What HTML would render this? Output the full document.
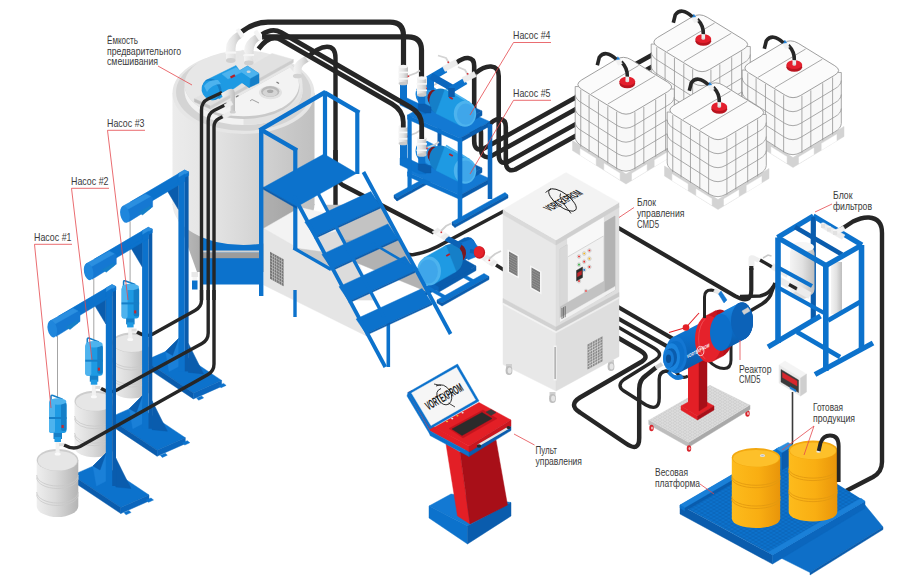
<!DOCTYPE html>
<html lang="ru"><head><meta charset="utf-8"><title>Схема установки CMD5</title>
<style>
html,body{margin:0;padding:0;background:#fff;}
body{width:900px;height:584px;overflow:hidden;}
svg{display:block;}
text{font-family:"Liberation Sans",sans-serif;}
.lbl{font-size:10.5px;fill:#3a3a3a;}
.hose{fill:none;stroke:#262626;stroke-linecap:butt;stroke-linejoin:round;}
.ld{fill:none;stroke:#e5484d;stroke-width:0.8;}
</style></head><body>
<svg width="900" height="584" viewBox="0 0 900 584">
<defs>
<linearGradient id="gTank" x1="0" x2="1" y1="0" y2="0">
<stop offset="0" stop-color="#ececec"/><stop offset="0.3" stop-color="#e3e3e3"/><stop offset="0.55" stop-color="#d6d6d6"/><stop offset="0.8" stop-color="#c9c9c9"/><stop offset="1" stop-color="#c0c0c0"/>
</linearGradient>
<linearGradient id="gCone" x1="0" x2="1" y1="0" y2="0">
<stop offset="0" stop-color="#c4c4c4"/><stop offset="0.25" stop-color="#a4a4a4"/><stop offset="1" stop-color="#8e8e8e"/>
</linearGradient>
<linearGradient id="gPipe" x1="0" x2="1" y1="0" y2="0">
<stop offset="0" stop-color="#f4f4f4"/><stop offset="0.5" stop-color="#e2e2e2"/><stop offset="1" stop-color="#bdbdbd"/>
</linearGradient>
<linearGradient id="gDrum" x1="0" x2="1" y1="0" y2="0">
<stop offset="0" stop-color="#eeeeee"/><stop offset="0.45" stop-color="#dadada"/><stop offset="1" stop-color="#b4b4b4"/>
</linearGradient>
<linearGradient id="gYel" x1="0" x2="1" y1="0" y2="0">
<stop offset="0" stop-color="#fdbb1c"/><stop offset="0.55" stop-color="#f9ae12"/><stop offset="1" stop-color="#e9950a"/>
</linearGradient>
<linearGradient id="gCyl" x1="0" x2="0" y1="0" y2="1">
<stop offset="0" stop-color="#1a86e0"/><stop offset="0.5" stop-color="#0c6fca"/><stop offset="1" stop-color="#0a57a6"/>
</linearGradient>
<pattern id="pDiamond" width="5" height="3" patternUnits="userSpaceOnUse">
<rect width="5" height="3" fill="#dcdcdc"/>
<path d="M0,1.5 L2.5,0 L5,1.5 L2.5,3 Z" fill="none" stroke="#c4c4c4" stroke-width="0.5"/>
</pattern>
<pattern id="pDiamondB" width="6" height="3.6" patternUnits="userSpaceOnUse">
<rect width="6" height="3.6" fill="#0c72cc"/>
<path d="M0,1.8 L3,0 L6,1.8 L3,3.6 Z" fill="none" stroke="#0a62b4" stroke-width="0.7"/>
</pattern>
<clipPath id="cHatch"><polygon points="212,111 296,64 330,64 330,140 212,140"/></clipPath>

</defs>
<g id="tophoses0">
<path class="hose" d="M456,63 Q463,57.5 468,58 Q474.2,58.5 474.2,66 L474.2,141 Q474.2,151.5 483,149.01 L656,52.82" stroke-width="4.6" stroke="#262626" />
<path class="hose" d="M475.5,73 Q484,66 491,66.5 Q498.7,67 498.7,76 L498.7,154 Q498.7,165.5 508,161.81 L656,79.52" stroke-width="4.6" stroke="#262626" />
<path class="hose" d="M470,133 Q475,126.5 478,127 Q481,127.5 481,133 L481,148 Q481,159 490,156.82 L656,64.52" stroke-width="4.6" stroke="#262626" />
<path class="hose" d="M487,127 Q494,118.5 500,119 Q505.8,119.5 505.8,127 L505.8,161 Q505.8,172.5 515,169.62 L656,91.22" stroke-width="4.6" stroke="#262626" />
</g>
<g id="ibc">
<polygon points="648.5,98 702,131.5 753,100.5 753,110.5 702,141.5 648.5,108" fill="#d3d3d3" stroke="#d3d3d3" stroke-width="0.45" stroke-linejoin="round" />
<polygon points="656.24,106.34 671.84,115.94 671.84,122.44 656.24,112.84" fill="#fff" stroke="#fff" stroke-width="0.45" stroke-linejoin="round" />
<polygon points="707.94,130.96 722.79,122.11 722.79,128.61 707.94,137.46" fill="#fff" stroke="#fff" stroke-width="0.45" stroke-linejoin="round" />
<polygon points="680.16,121.06 695.76,130.66 695.76,137.16 680.16,127.56" fill="#fff" stroke="#fff" stroke-width="0.45" stroke-linejoin="round" />
<polygon points="730.71,117.39 745.56,108.54 745.56,115.04 730.71,123.89" fill="#fff" stroke="#fff" stroke-width="0.45" stroke-linejoin="round" />
<path d="M651.2,44 L651.2,95 Q651.5,100 658,103.5 L694,126.5 Q702,131 710,126.2 L743.5,106 Q750,102.5 750.3,97.5 L750.3,46.5 Z" fill="#f8f8f8" stroke="#949494" stroke-width="0.8" />
<path d="M651.2,52 Q651.5,57 658,60.5 L694,83.5 Q702,88 710,83.2 L743.5,63 Q750,59.5 750.3,54.5" fill="none" stroke="#949494" stroke-width="0.8" />
<path d="M651.2,66 Q651.5,71 658,74.5 L694,97.5 Q702,102 710,97.2 L743.5,77 Q750,73.5 750.3,68.5" fill="none" stroke="#949494" stroke-width="0.8" />
<path d="M651.2,80 Q651.5,85 658,88.5 L694,111.5 Q702,116 710,111.2 L743.5,91 Q750,87.5 750.3,82.5" fill="none" stroke="#949494" stroke-width="0.8" />
<line x1="656.76" y1="47.16" x2="656.76" y2="104.16" stroke="#949494" stroke-width="0.8" />
<line x1="665.08" y1="52.28" x2="665.08" y2="109.28" stroke="#949494" stroke-width="0.8" />
<line x1="674.44" y1="58.04" x2="674.44" y2="115.04" stroke="#949494" stroke-width="0.8" />
<line x1="683.8" y1="63.8" x2="683.8" y2="120.8" stroke="#949494" stroke-width="0.8" />
<line x1="692.64" y1="69.24" x2="692.64" y2="126.24" stroke="#949494" stroke-width="0.8" />
<line x1="710.91" y1="69.69" x2="710.91" y2="126.69" stroke="#949494" stroke-width="0.8" />
<line x1="719.82" y1="64.38" x2="719.82" y2="121.38" stroke="#949494" stroke-width="0.8" />
<line x1="731.7" y1="57.3" x2="731.7" y2="114.3" stroke="#949494" stroke-width="0.8" />
<line x1="741.6" y1="51.4" x2="741.6" y2="108.4" stroke="#949494" stroke-width="0.8" />
<path d="M657.66,46.72 Q650,42 657.73,37.39 L691.77,17.11 Q699.5,12.5 707.16,17.22 L743.84,39.78 Q751.5,44.5 743.77,49.11 L709.73,69.39 Q702,74 694.34,69.28 Z" fill="#fbfbfb" stroke="#949494" stroke-width="0.9" />
<line x1="667.11" y1="51.33" x2="714.63" y2="23.01" stroke="#949494" stroke-width="0.8" />
<line x1="683.75" y1="61.57" x2="731.27" y2="33.25" stroke="#949494" stroke-width="0.8" />
<ellipse cx="703.31" cy="41.31" rx="7.8" ry="4.4" fill="#b9141f" />
<rect x="695.51" y="38.71" width="15.6" height="2.6" fill="#b9141f" />
<ellipse cx="703.31" cy="38.71" rx="7.8" ry="4.4" fill="#e41f2d" />
<rect x="701.51" y="33.71" width="3.6" height="5" fill="#ececec" />
<ellipse cx="703.31" cy="38.71" rx="1.8" ry="1" fill="#dcdcdc" />
<path class="hose" d="M703.31,34.21 Q703.81,25.71 697.31,19.21" stroke-width="3.6" stroke="#262626" />
<polygon points="698.31,21.21 694.81,14.71 690.81,16.71 694.31,22.71" fill="#f0f0f0" stroke="#f0f0f0" stroke-width="0.45" stroke-linejoin="round" />
<polygon points="693.81,14.21 691.81,17.21 695.81,16.71" fill="#1e7fd6" stroke="#1e7fd6" stroke-width="0.45" stroke-linejoin="round" />
<path class="hose" d="M692.31,16.71 Q681.31,6.71 675.31,14.71 L673.31,22.71" stroke-width="3.6" stroke="#262626" />
<polygon points="739.5,124 793,157.5 844,126.5 844,136.5 793,167.5 739.5,134" fill="#d3d3d3" stroke="#d3d3d3" stroke-width="0.45" stroke-linejoin="round" />
<polygon points="747.24,132.34 762.84,141.94 762.84,148.44 747.24,138.84" fill="#fff" stroke="#fff" stroke-width="0.45" stroke-linejoin="round" />
<polygon points="798.94,156.96 813.79,148.11 813.79,154.61 798.94,163.46" fill="#fff" stroke="#fff" stroke-width="0.45" stroke-linejoin="round" />
<polygon points="771.16,147.06 786.76,156.66 786.76,163.16 771.16,153.56" fill="#fff" stroke="#fff" stroke-width="0.45" stroke-linejoin="round" />
<polygon points="821.71,143.39 836.56,134.54 836.56,141.04 821.71,149.89" fill="#fff" stroke="#fff" stroke-width="0.45" stroke-linejoin="round" />
<path d="M742.2,70 L742.2,121 Q742.5,126 749,129.5 L785,152.5 Q793,157 801,152.2 L834.5,132 Q841,128.5 841.3,123.5 L841.3,72.5 Z" fill="#f8f8f8" stroke="#949494" stroke-width="0.8" />
<path d="M742.2,78 Q742.5,83 749,86.5 L785,109.5 Q793,114 801,109.2 L834.5,89 Q841,85.5 841.3,80.5" fill="none" stroke="#949494" stroke-width="0.8" />
<path d="M742.2,92 Q742.5,97 749,100.5 L785,123.5 Q793,128 801,123.2 L834.5,103 Q841,99.5 841.3,94.5" fill="none" stroke="#949494" stroke-width="0.8" />
<path d="M742.2,106 Q742.5,111 749,114.5 L785,137.5 Q793,142 801,137.2 L834.5,117 Q841,113.5 841.3,108.5" fill="none" stroke="#949494" stroke-width="0.8" />
<line x1="747.76" y1="73.16" x2="747.76" y2="130.16" stroke="#949494" stroke-width="0.8" />
<line x1="756.08" y1="78.28" x2="756.08" y2="135.28" stroke="#949494" stroke-width="0.8" />
<line x1="765.44" y1="84.04" x2="765.44" y2="141.04" stroke="#949494" stroke-width="0.8" />
<line x1="774.8" y1="89.8" x2="774.8" y2="146.8" stroke="#949494" stroke-width="0.8" />
<line x1="783.64" y1="95.24" x2="783.64" y2="152.24" stroke="#949494" stroke-width="0.8" />
<line x1="801.91" y1="95.69" x2="801.91" y2="152.69" stroke="#949494" stroke-width="0.8" />
<line x1="810.82" y1="90.38" x2="810.82" y2="147.38" stroke="#949494" stroke-width="0.8" />
<line x1="822.7" y1="83.3" x2="822.7" y2="140.3" stroke="#949494" stroke-width="0.8" />
<line x1="832.6" y1="77.4" x2="832.6" y2="134.4" stroke="#949494" stroke-width="0.8" />
<path d="M748.66,72.72 Q741,68 748.73,63.39 L782.77,43.11 Q790.5,38.5 798.16,43.22 L834.84,65.78 Q842.5,70.5 834.77,75.11 L800.73,95.39 Q793,100 785.34,95.28 Z" fill="#fbfbfb" stroke="#949494" stroke-width="0.9" />
<line x1="758.11" y1="77.33" x2="805.63" y2="49.01" stroke="#949494" stroke-width="0.8" />
<line x1="774.75" y1="87.57" x2="822.27" y2="59.25" stroke="#949494" stroke-width="0.8" />
<ellipse cx="794.31" cy="67.31" rx="7.8" ry="4.4" fill="#b9141f" />
<rect x="786.51" y="64.71" width="15.6" height="2.6" fill="#b9141f" />
<ellipse cx="794.31" cy="64.71" rx="7.8" ry="4.4" fill="#e41f2d" />
<rect x="792.51" y="59.71" width="3.6" height="5" fill="#ececec" />
<ellipse cx="794.31" cy="64.71" rx="1.8" ry="1" fill="#dcdcdc" />
<path class="hose" d="M794.31,60.21 Q794.81,51.71 788.31,45.21" stroke-width="3.6" stroke="#262626" />
<polygon points="789.31,47.21 785.81,40.71 781.81,42.71 785.31,48.71" fill="#f0f0f0" stroke="#f0f0f0" stroke-width="0.45" stroke-linejoin="round" />
<polygon points="784.81,40.21 782.81,43.21 786.81,42.71" fill="#1e7fd6" stroke="#1e7fd6" stroke-width="0.45" stroke-linejoin="round" />
<path class="hose" d="M783.31,42.71 Q772.31,32.71 766.31,40.71 L764.31,48.71" stroke-width="3.6" stroke="#262626" />
</g>
<g id="tank">
<polygon points="172.5,204 197,272 292,272 314.5,204" fill="url(#gCone)" />
<rect x="203" y="236" width="57" height="48.5" fill="#0c72cc" />
<rect x="203" y="250.5" width="57" height="2.2" fill="#d2d2d2" />
<rect x="203" y="252.7" width="57" height="5.5" fill="#9c9c9c" />
<rect x="191.5" y="272" width="6.5" height="5" fill="#e8e8e8" />
<rect x="192.5" y="277" width="4.5" height="3.5" fill="#f5f5f5" />
<rect x="192" y="280.5" width="5.5" height="9" fill="#0c72cc" />
<path d="M172.5,93 L172.5,204 A71,41 0 0 0 314.5,204 L314.5,93 Z" fill="url(#gTank)" />
<ellipse cx="243.5" cy="93" rx="71" ry="41" fill="#e6e6e6" />
<ellipse cx="243.5" cy="92" rx="67.5" ry="38.8" fill="#d4d4d4" />
<path d="M184.5,91 A59,34 0 0 0 302.5,91 L302.5,84.5 A59,34 0 0 1 184.5,84.5 Z" fill="#f2f2f2" />
<path d="M243.5,125 A59,34 0 0 0 302.5,91 L302.5,84.5 A59,34 0 0 1 243.5,118.5 Z" fill="#e2e2e2" />
<ellipse cx="243.5" cy="84.5" rx="59" ry="34" fill="#e7e7e7" />
<g clip-path="url(#cHatch)">
<ellipse cx="243.5" cy="87" rx="56" ry="32" fill="#c9c9c9" />
<ellipse cx="243.5" cy="85" rx="55.5" ry="31.3" fill="#f3f3f3" />
</g>
<polygon points="194.4,98.8 272,53.4 293.3,59.6 210.5,106" fill="#e1e1e1" stroke="#e1e1e1" stroke-width="0.45" stroke-linejoin="round" />
<polygon points="194.4,98.8 210.5,106 210.5,109 194.4,101.8" fill="#bfbfbf" stroke="#bfbfbf" stroke-width="0.45" stroke-linejoin="round" />
<polygon points="210.5,106 293.3,59.6 293.3,62.4 210.5,109" fill="#cdcdcd" stroke="#cdcdcd" stroke-width="0.45" stroke-linejoin="round" />
<ellipse cx="270.5" cy="92.5" rx="11.5" ry="6.8" fill="#e2e2e2" />
<ellipse cx="270.2" cy="91.5" rx="9.2" ry="5.4" fill="#b9b9b9" />
<ellipse cx="270.2" cy="92.6" rx="7.4" ry="4.1" fill="#d5d5d5" />
<ellipse cx="270.2" cy="91.2" rx="3.2" ry="1.8" fill="#a9a9a9" />
<polyline points="250,101 252,99.5 259,103" fill="none" stroke="#8a8a8a" stroke-width="0.8" />
<polyline points="236,97 238.5,95.5" fill="none" stroke="#777" stroke-width="1.2" />
<polyline points="276.5,82 279,83.5" fill="none" stroke="#777" stroke-width="1.2" />
<polygon points="239,71 247.5,66 259,73.6 259,83 249,87.6 239,80.5" fill="#157fc8" stroke="#157fc8" stroke-width="0.45" stroke-linejoin="round" />
<polygon points="239,71 247.5,66 259,73.6 250,78.5" fill="#4db3ee" stroke="#4db3ee" stroke-width="0.45" stroke-linejoin="round" />
<polygon points="239,71 250,78.5 249.5,87.6 239,80.5" fill="#1e9ae3" stroke="#1e9ae3" stroke-width="0.45" stroke-linejoin="round" />
<ellipse cx="248.6" cy="71.8" rx="2" ry="1.2" fill="#cfd8df" />
<polygon points="205.5,80.5 236,65.5 246,80 219,99" fill="#1e9ae3" stroke="#1e9ae3" stroke-width="0.45" stroke-linejoin="round" />
<polygon points="222,74 236,67.5 242,72 228,79" fill="#4db3ee" stroke="#4db3ee" stroke-width="0.45" stroke-linejoin="round" />
<rect x="230" y="75.5" width="5" height="2.3" fill="#b3202a" transform="rotate(-27 232 76)"/>
<ellipse cx="211.8" cy="89.5" rx="9.4" ry="11" fill="#157fc8" transform="rotate(-28 211.8 89.5)"/>
<ellipse cx="210.4" cy="90.3" rx="8.4" ry="10.2" fill="#1e9ae3" transform="rotate(-28 210.4 90.3)"/>
<path d="M204,86 Q209,79 218,80 L221,84 Q212,84 207,92 Z" fill="#4db3ee" />
</g>
<g id="tophoses">
<path class="hose" d="M306,59 Q318,46.8 327,46.8 Q335.5,46.8 335.5,58 L335.5,215" stroke-width="4.4" stroke="#262626" />
<path class="hose" d="M242,31.5 Q254,22.2 268,22.2 L390,22.2 Q403.5,22.2 403.5,36 L403.5,67" stroke-width="5.2" stroke="#262626" />
<path class="hose" d="M262,36.8 L408,36.8 Q421.5,36.8 421.5,50 L421.5,78" stroke-width="5.2" stroke="#262626" />
<path d="M226,60.5 L226,48.5 Q226,38.5 238,31.5 L242,37.5 Q235.5,41.5 235.5,48.5 L235.5,60.5 Z" fill="url(#gPipe)" />
<ellipse cx="230.75" cy="60.5" rx="4.75" ry="2.4" fill="#cfcfcf" />
<rect x="225.2" y="51.5" width="11" height="2.2" fill="#f6f6f6" />
<polygon points="236,30 239,28.5 244,36 241,38" fill="#f4f4f4" stroke="#f4f4f4" stroke-width="0.45" stroke-linejoin="round" />
<path d="M244,63 L244,51 Q244,41 256,34 L260,40 Q253.5,44 253.5,51 L253.5,63 Z" fill="url(#gPipe)" />
<ellipse cx="248.75" cy="63" rx="4.75" ry="2.4" fill="#cfcfcf" />
<rect x="243.2" y="54" width="11" height="2.2" fill="#f6f6f6" />
<polygon points="254,32.5 257,31 262,38.5 259,40.5" fill="#f4f4f4" stroke="#f4f4f4" stroke-width="0.45" stroke-linejoin="round" />
<polygon points="236,54 243,50 245,53.5 238,57.5" fill="#e6e6e6" stroke="#e6e6e6" stroke-width="0.45" stroke-linejoin="round" />
<polygon points="252,57.5 260,52.5 262,56.5 254,61" fill="#e6e6e6" stroke="#e6e6e6" stroke-width="0.45" stroke-linejoin="round" />
<path d="M293.5,76 L293.5,70 Q293.5,63 301,58.5 L306,55.5 L309.5,61 L305,64 Q301.5,66.5 301.5,70 L301.5,76 Z" fill="url(#gPipe)" />
<ellipse cx="297.5" cy="76" rx="4.6" ry="2.3" fill="#d2d2d2" />
<polygon points="304,54.5 307,52.5 311.5,59.5 308.5,61.5" fill="#f5f5f5" stroke="#f5f5f5" stroke-width="0.45" stroke-linejoin="round" />
</g>
<g id="tankfront">
<path class="hose" d="M222,92.5 L208,99 Q201.5,102 201.5,110 L201.5,300" stroke-width="3.4" stroke="#262626" />
<path class="hose" d="M227,104 L214,110.5 Q208.2,113.5 208.2,121 L208.2,300" stroke-width="3.4" stroke="#262626" />
<path class="hose" d="M224,116 L219,118.5 Q214,121 214,127 L214,300" stroke-width="3.4" stroke="#262626" />
<path d="M221,93.5 L228,89.5 Q235,86.5 235,95 L235,112 L230.5,112 L230.5,97 Q230.5,93.5 227,95.5 L223,97.5 Z" fill="url(#gPipe)" />
<polygon points="224,104.5 231,101 233,104.5 226,108.5" fill="#ededed" stroke="#ededed" stroke-width="0.45" stroke-linejoin="round" />
<polygon points="222,115 230,111 232,114.5 224,119" fill="#ededed" stroke="#ededed" stroke-width="0.45" stroke-linejoin="round" />
<ellipse cx="232.8" cy="112" rx="3" ry="1.6" fill="#d0d0d0" />
</g>
<g id="pumpstation">
<line x1="439.5" y1="100" x2="439.5" y2="172" stroke="#0a5cad" stroke-width="4" />
<polygon points="394,195 447,166 450,168.5 397,198" fill="#0c72cc" stroke="#0c72cc" stroke-width="0.45" stroke-linejoin="round" />
<polygon points="394,195 397,198 397,201 394,198" fill="#0a5cad" stroke="#0a5cad" stroke-width="0.45" stroke-linejoin="round" />
<polygon points="397,198 450,168.5 450,171.5 397,201" fill="#0a5cad" stroke="#0a5cad" stroke-width="0.45" stroke-linejoin="round" />
<g transform="translate(0,57)">
<polygon points="407.5,115 437.5,98.5 490,121.7 460,138.3" fill="#1379d3" stroke="#1379d3" stroke-width="0.45" stroke-linejoin="round" />
<polygon points="407.5,115 460,138.3 460,142.5 407.5,119.2" fill="#0c72cc" stroke="#0c72cc" stroke-width="0.45" stroke-linejoin="round" />
<polygon points="460,138.3 490,121.7 490,125.9 460,142.5" fill="#0a5cad" stroke="#0a5cad" stroke-width="0.45" stroke-linejoin="round" />
<polygon points="428,104 446,94 482,111 463,121.5" fill="#0a5cad" stroke="#0a5cad" stroke-width="0.45" stroke-linejoin="round" />
<polygon points="428,104 463,121.5 463,126 428,108.5" fill="#0b66bd" stroke="#0b66bd" stroke-width="0.45" stroke-linejoin="round" />
<polygon points="463,121.5 482,111 482,115.5 463,126" fill="#0a5cad" stroke="#0a5cad" stroke-width="0.45" stroke-linejoin="round" />
<ellipse cx="424" cy="94" rx="8.5" ry="10.5" fill="#1a86dc" />
<polygon points="428.81,107.73 420.81,103.73 427.19,84.27 435.19,88.27" fill="#1a86dc" stroke="#1a86dc" stroke-width="0.45" stroke-linejoin="round" />
<ellipse cx="432" cy="98" rx="8.5" ry="10.5" fill="#2b98e6" />
<ellipse cx="434" cy="97.8" rx="6.5" ry="8" fill="#7a1820" />
<polygon points="437.09,107.93 431.59,105.23 436.41,90.37 441.91,93.07" fill="#7a1820" stroke="#7a1820" stroke-width="0.45" stroke-linejoin="round" />
<ellipse cx="439.5" cy="100.5" rx="6.5" ry="8" fill="#8f1d26" />
<ellipse cx="440.5" cy="101.5" rx="11.2" ry="13" fill="#157fc8" />
<polygon points="460.55,125.73 436.05,113.43 444.95,89.57 469.45,101.87" fill="#1e9ae3" stroke="#1e9ae3" stroke-width="0.45" stroke-linejoin="round" />
<ellipse cx="465" cy="113.8" rx="11.2" ry="13" fill="#4db3ee" />
<ellipse cx="465.8" cy="114.2" rx="8.8" ry="10.6" fill="#3fa6ea" />
<path d="M446,88.5 L466,100.5" fill="none" stroke="#4db3ee" stroke-width="2" />
<rect x="449" y="97" width="4" height="2" fill="#b3202a" transform="rotate(30 451 98)"/>
</g>
<g transform="translate(0,60)">
<rect x="400" y="82" width="7" height="16" fill="#0c72cc" />
<polygon points="400,98 407,98 426,107 426,114 419,114 400,105" fill="#0c72cc" stroke="#0c72cc" stroke-width="0.45" stroke-linejoin="round" />
<rect x="418.2" y="94" width="7" height="12" fill="#0c72cc" />
<polygon points="418.2,104 425.2,104 431,107 431,113 425,113 418.2,110" fill="#0a5cad" stroke="#0a5cad" stroke-width="0.45" stroke-linejoin="round" />
<rect x="398.6" y="66.5" width="9.4" height="17" fill="url(#gPipe)" />
<ellipse cx="403.3" cy="83.5" rx="4.7" ry="1.8" fill="#c9c9c9" />
<ellipse cx="403.3" cy="66.5" rx="4.7" ry="1.8" fill="#f5f5f5" />
<rect x="398" y="71.6" width="10.6" height="1.6" fill="#f8f8f8" />
<rect x="398" y="78.06" width="10.6" height="1.6" fill="#f8f8f8" />
<rect x="417" y="78" width="9.4" height="17" fill="url(#gPipe)" />
<ellipse cx="421.7" cy="95" rx="4.7" ry="1.8" fill="#c9c9c9" />
<ellipse cx="421.7" cy="78" rx="4.7" ry="1.8" fill="#f5f5f5" />
<rect x="416.4" y="83.1" width="10.6" height="1.6" fill="#f8f8f8" />
<rect x="416.4" y="89.56" width="10.6" height="1.6" fill="#f8f8f8" />
<polyline points="408,76 416,73 420,70.5" fill="none" stroke="#cfcfcf" stroke-width="1.8" />
<polyline points="426.5,88 435,84.5 439,82" fill="none" stroke="#cfcfcf" stroke-width="1.8" />
<rect x="407.6" y="75.5" width="1.6" height="1.6" fill="#d9353a" />
<rect x="426.2" y="87.5" width="1.6" height="1.6" fill="#d9353a" />
</g>
<line x1="409.6" y1="115" x2="409.6" y2="191" stroke="#0c72cc" stroke-width="4.2" />
<g transform="translate(0,0)">
<polygon points="407.5,115 437.5,98.5 490,121.7 460,138.3" fill="#1379d3" stroke="#1379d3" stroke-width="0.45" stroke-linejoin="round" />
<polygon points="407.5,115 460,138.3 460,142.5 407.5,119.2" fill="#0c72cc" stroke="#0c72cc" stroke-width="0.45" stroke-linejoin="round" />
<polygon points="460,138.3 490,121.7 490,125.9 460,142.5" fill="#0a5cad" stroke="#0a5cad" stroke-width="0.45" stroke-linejoin="round" />
<polygon points="428,104 446,94 482,111 463,121.5" fill="#0a5cad" stroke="#0a5cad" stroke-width="0.45" stroke-linejoin="round" />
<polygon points="428,104 463,121.5 463,126 428,108.5" fill="#0b66bd" stroke="#0b66bd" stroke-width="0.45" stroke-linejoin="round" />
<polygon points="463,121.5 482,111 482,115.5 463,126" fill="#0a5cad" stroke="#0a5cad" stroke-width="0.45" stroke-linejoin="round" />
<ellipse cx="424" cy="94" rx="8.5" ry="10.5" fill="#1a86dc" />
<polygon points="428.81,107.73 420.81,103.73 427.19,84.27 435.19,88.27" fill="#1a86dc" stroke="#1a86dc" stroke-width="0.45" stroke-linejoin="round" />
<ellipse cx="432" cy="98" rx="8.5" ry="10.5" fill="#2b98e6" />
<ellipse cx="434" cy="97.8" rx="6.5" ry="8" fill="#7a1820" />
<polygon points="437.09,107.93 431.59,105.23 436.41,90.37 441.91,93.07" fill="#7a1820" stroke="#7a1820" stroke-width="0.45" stroke-linejoin="round" />
<ellipse cx="439.5" cy="100.5" rx="6.5" ry="8" fill="#8f1d26" />
<ellipse cx="440.5" cy="101.5" rx="11.2" ry="13" fill="#157fc8" />
<polygon points="460.55,125.73 436.05,113.43 444.95,89.57 469.45,101.87" fill="#1e9ae3" stroke="#1e9ae3" stroke-width="0.45" stroke-linejoin="round" />
<ellipse cx="465" cy="113.8" rx="11.2" ry="13" fill="#4db3ee" />
<ellipse cx="465.8" cy="114.2" rx="8.8" ry="10.6" fill="#3fa6ea" />
<path d="M446,88.5 L466,100.5" fill="none" stroke="#4db3ee" stroke-width="2" />
<rect x="449" y="97" width="4" height="2" fill="#b3202a" transform="rotate(30 451 98)"/>
</g>
<g transform="translate(0,0)">
<rect x="400" y="82" width="7" height="16" fill="#0c72cc" />
<polygon points="400,98 407,98 426,107 426,114 419,114 400,105" fill="#0c72cc" stroke="#0c72cc" stroke-width="0.45" stroke-linejoin="round" />
<rect x="418.2" y="94" width="7" height="12" fill="#0c72cc" />
<polygon points="418.2,104 425.2,104 431,107 431,113 425,113 418.2,110" fill="#0a5cad" stroke="#0a5cad" stroke-width="0.45" stroke-linejoin="round" />
<rect x="398.6" y="66.5" width="9.4" height="17" fill="url(#gPipe)" />
<ellipse cx="403.3" cy="83.5" rx="4.7" ry="1.8" fill="#c9c9c9" />
<ellipse cx="403.3" cy="66.5" rx="4.7" ry="1.8" fill="#f5f5f5" />
<rect x="398" y="71.6" width="10.6" height="1.6" fill="#f8f8f8" />
<rect x="398" y="78.06" width="10.6" height="1.6" fill="#f8f8f8" />
<rect x="417" y="78" width="9.4" height="17" fill="url(#gPipe)" />
<ellipse cx="421.7" cy="95" rx="4.7" ry="1.8" fill="#c9c9c9" />
<ellipse cx="421.7" cy="78" rx="4.7" ry="1.8" fill="#f5f5f5" />
<rect x="416.4" y="83.1" width="10.6" height="1.6" fill="#f8f8f8" />
<rect x="416.4" y="89.56" width="10.6" height="1.6" fill="#f8f8f8" />
<polyline points="408,76 416,73 420,70.5" fill="none" stroke="#cfcfcf" stroke-width="1.8" />
<polyline points="426.5,88 435,84.5 439,82" fill="none" stroke="#cfcfcf" stroke-width="1.8" />
<rect x="407.6" y="75.5" width="1.6" height="1.6" fill="#d9353a" />
<rect x="426.2" y="87.5" width="1.6" height="1.6" fill="#d9353a" />
</g>
<g transform="translate(0,0)">
<line x1="430.5" y1="90" x2="430.5" y2="78" stroke="#0c72cc" stroke-width="7" />
<line x1="428" y1="79.5" x2="445.5" y2="69.3" stroke="#0c72cc" stroke-width="7" />
<line x1="431" y1="76" x2="453" y2="88.5" stroke="#0b66bd" stroke-width="7" />
<line x1="450.5" y1="90" x2="465.5" y2="81" stroke="#0c72cc" stroke-width="7" />
<line x1="451.5" y1="97" x2="451.5" y2="88" stroke="#0a5cad" stroke-width="6.5" />
<polygon points="442.5,66.5 455.5,59.5 458,64.5 445,71.5" fill="#ececec" stroke="#ececec" stroke-width="0.45" stroke-linejoin="round" />
<polygon points="462,77.5 474,71.5 476.5,76.5 464.5,82.5" fill="#ececec" stroke="#ececec" stroke-width="0.45" stroke-linejoin="round" />
<polyline points="449,63 446,58 438,55.5" fill="none" stroke="#d4d4d4" stroke-width="1.8" />
<polyline points="468,75 465,70 458,67" fill="none" stroke="#d4d4d4" stroke-width="1.8" />
<rect x="447.5" y="61.5" width="1.6" height="1.6" fill="#d9353a" />
<rect x="466.8" y="73" width="1.6" height="1.6" fill="#d9353a" />
</g>
<polygon points="452,222 505,192.5 508,195 455,224.5" fill="#0c72cc" stroke="#0c72cc" stroke-width="0.45" stroke-linejoin="round" />
<polygon points="452,222 455,224.5 455,227.5 452,225" fill="#0a5cad" stroke="#0a5cad" stroke-width="0.45" stroke-linejoin="round" />
<polygon points="455,224.5 508,195 508,198 455,227.5" fill="#0a5cad" stroke="#0a5cad" stroke-width="0.45" stroke-linejoin="round" />
<line x1="460" y1="138" x2="460" y2="219" stroke="#0c72cc" stroke-width="4.6" />
<line x1="490" y1="124" x2="490" y2="199" stroke="#0b66bd" stroke-width="4.6" />
</g>
<g id="hosesC">
<path class="hose" d="M262,34.5 Q272,27.5 281,32.3 L410,106.8 Q421.7,113.5 421.7,125 L421.7,139" stroke-width="4.8" stroke="#262626" />
<path class="hose" d="M258.5,49 Q270,33.5 281,39.8 L392,103.9 Q403.3,110.5 403.3,122 L403.3,127.5" stroke-width="4.8" stroke="#262626" />
<polygon points="254,32 257,30 262,37.5 259,39.5" fill="#f4f4f4" stroke="#f4f4f4" stroke-width="0.45" stroke-linejoin="round" />
</g>
<g id="ibc2">
<polygon points="572.5,140.5 626,174 677,143 677,153 626,184 572.5,150.5" fill="#d3d3d3" stroke="#d3d3d3" stroke-width="0.45" stroke-linejoin="round" />
<polygon points="580.24,148.84 595.84,158.44 595.84,164.94 580.24,155.34" fill="#fff" stroke="#fff" stroke-width="0.45" stroke-linejoin="round" />
<polygon points="631.94,173.46 646.79,164.61 646.79,171.11 631.94,179.96" fill="#fff" stroke="#fff" stroke-width="0.45" stroke-linejoin="round" />
<polygon points="604.16,163.56 619.76,173.16 619.76,179.66 604.16,170.06" fill="#fff" stroke="#fff" stroke-width="0.45" stroke-linejoin="round" />
<polygon points="654.71,159.89 669.56,151.04 669.56,157.54 654.71,166.39" fill="#fff" stroke="#fff" stroke-width="0.45" stroke-linejoin="round" />
<path d="M575.2,86.5 L575.2,137.5 Q575.5,142.5 582,146 L618,169 Q626,173.5 634,168.7 L667.5,148.5 Q674,145 674.3,140 L674.3,89 Z" fill="#f8f8f8" stroke="#949494" stroke-width="0.8" />
<path d="M575.2,94.5 Q575.5,99.5 582,103 L618,126 Q626,130.5 634,125.7 L667.5,105.5 Q674,102 674.3,97" fill="none" stroke="#949494" stroke-width="0.8" />
<path d="M575.2,108.5 Q575.5,113.5 582,117 L618,140 Q626,144.5 634,139.7 L667.5,119.5 Q674,116 674.3,111" fill="none" stroke="#949494" stroke-width="0.8" />
<path d="M575.2,122.5 Q575.5,127.5 582,131 L618,154 Q626,158.5 634,153.7 L667.5,133.5 Q674,130 674.3,125" fill="none" stroke="#949494" stroke-width="0.8" />
<line x1="580.76" y1="89.66" x2="580.76" y2="146.66" stroke="#949494" stroke-width="0.8" />
<line x1="589.08" y1="94.78" x2="589.08" y2="151.78" stroke="#949494" stroke-width="0.8" />
<line x1="598.44" y1="100.54" x2="598.44" y2="157.54" stroke="#949494" stroke-width="0.8" />
<line x1="607.8" y1="106.3" x2="607.8" y2="163.3" stroke="#949494" stroke-width="0.8" />
<line x1="616.64" y1="111.74" x2="616.64" y2="168.74" stroke="#949494" stroke-width="0.8" />
<line x1="634.91" y1="112.19" x2="634.91" y2="169.19" stroke="#949494" stroke-width="0.8" />
<line x1="643.82" y1="106.88" x2="643.82" y2="163.88" stroke="#949494" stroke-width="0.8" />
<line x1="655.7" y1="99.8" x2="655.7" y2="156.8" stroke="#949494" stroke-width="0.8" />
<line x1="665.6" y1="93.9" x2="665.6" y2="150.9" stroke="#949494" stroke-width="0.8" />
<path d="M581.66,89.22 Q574,84.5 581.73,79.89 L615.77,59.61 Q623.5,55 631.16,59.72 L667.84,82.28 Q675.5,87 667.77,91.61 L633.73,111.89 Q626,116.5 618.34,111.78 Z" fill="#fbfbfb" stroke="#949494" stroke-width="0.9" />
<line x1="591.11" y1="93.83" x2="638.63" y2="65.51" stroke="#949494" stroke-width="0.8" />
<line x1="607.75" y1="104.07" x2="655.27" y2="75.75" stroke="#949494" stroke-width="0.8" />
<ellipse cx="627.31" cy="83.81" rx="7.8" ry="4.4" fill="#b9141f" />
<rect x="619.51" y="81.21" width="15.6" height="2.6" fill="#b9141f" />
<ellipse cx="627.31" cy="81.21" rx="7.8" ry="4.4" fill="#e41f2d" />
<rect x="625.51" y="76.21" width="3.6" height="5" fill="#ececec" />
<ellipse cx="627.31" cy="81.21" rx="1.8" ry="1" fill="#dcdcdc" />
<path class="hose" d="M627.31,76.71 Q627.81,68.21 621.31,61.71" stroke-width="3.6" stroke="#262626" />
<polygon points="622.31,63.71 618.81,57.21 614.81,59.21 618.31,65.21" fill="#f0f0f0" stroke="#f0f0f0" stroke-width="0.45" stroke-linejoin="round" />
<polygon points="617.81,56.71 615.81,59.71 619.81,59.21" fill="#1e7fd6" stroke="#1e7fd6" stroke-width="0.45" stroke-linejoin="round" />
<path class="hose" d="M616.31,59.21 Q605.31,49.21 599.31,57.21 L597.31,65.21" stroke-width="3.6" stroke="#262626" />
<polygon points="664.5,166 718,199.5 769,168.5 769,178.5 718,209.5 664.5,176" fill="#d3d3d3" stroke="#d3d3d3" stroke-width="0.45" stroke-linejoin="round" />
<polygon points="672.24,174.34 687.84,183.94 687.84,190.44 672.24,180.84" fill="#fff" stroke="#fff" stroke-width="0.45" stroke-linejoin="round" />
<polygon points="723.94,198.96 738.79,190.11 738.79,196.61 723.94,205.46" fill="#fff" stroke="#fff" stroke-width="0.45" stroke-linejoin="round" />
<polygon points="696.16,189.06 711.76,198.66 711.76,205.16 696.16,195.56" fill="#fff" stroke="#fff" stroke-width="0.45" stroke-linejoin="round" />
<polygon points="746.71,185.39 761.56,176.54 761.56,183.04 746.71,191.89" fill="#fff" stroke="#fff" stroke-width="0.45" stroke-linejoin="round" />
<path d="M667.2,112 L667.2,163 Q667.5,168 674,171.5 L710,194.5 Q718,199 726,194.2 L759.5,174 Q766,170.5 766.3,165.5 L766.3,114.5 Z" fill="#f8f8f8" stroke="#949494" stroke-width="0.8" />
<path d="M667.2,120 Q667.5,125 674,128.5 L710,151.5 Q718,156 726,151.2 L759.5,131 Q766,127.5 766.3,122.5" fill="none" stroke="#949494" stroke-width="0.8" />
<path d="M667.2,134 Q667.5,139 674,142.5 L710,165.5 Q718,170 726,165.2 L759.5,145 Q766,141.5 766.3,136.5" fill="none" stroke="#949494" stroke-width="0.8" />
<path d="M667.2,148 Q667.5,153 674,156.5 L710,179.5 Q718,184 726,179.2 L759.5,159 Q766,155.5 766.3,150.5" fill="none" stroke="#949494" stroke-width="0.8" />
<line x1="672.76" y1="115.16" x2="672.76" y2="172.16" stroke="#949494" stroke-width="0.8" />
<line x1="681.08" y1="120.28" x2="681.08" y2="177.28" stroke="#949494" stroke-width="0.8" />
<line x1="690.44" y1="126.04" x2="690.44" y2="183.04" stroke="#949494" stroke-width="0.8" />
<line x1="699.8" y1="131.8" x2="699.8" y2="188.8" stroke="#949494" stroke-width="0.8" />
<line x1="708.64" y1="137.24" x2="708.64" y2="194.24" stroke="#949494" stroke-width="0.8" />
<line x1="726.91" y1="137.69" x2="726.91" y2="194.69" stroke="#949494" stroke-width="0.8" />
<line x1="735.82" y1="132.38" x2="735.82" y2="189.38" stroke="#949494" stroke-width="0.8" />
<line x1="747.7" y1="125.3" x2="747.7" y2="182.3" stroke="#949494" stroke-width="0.8" />
<line x1="757.6" y1="119.4" x2="757.6" y2="176.4" stroke="#949494" stroke-width="0.8" />
<path d="M673.66,114.72 Q666,110 673.73,105.39 L707.77,85.11 Q715.5,80.5 723.16,85.22 L759.84,107.78 Q767.5,112.5 759.77,117.11 L725.73,137.39 Q718,142 710.34,137.28 Z" fill="#fbfbfb" stroke="#949494" stroke-width="0.9" />
<line x1="683.11" y1="119.33" x2="730.63" y2="91.01" stroke="#949494" stroke-width="0.8" />
<line x1="699.75" y1="129.57" x2="747.27" y2="101.25" stroke="#949494" stroke-width="0.8" />
<ellipse cx="719.31" cy="109.31" rx="7.8" ry="4.4" fill="#b9141f" />
<rect x="711.51" y="106.71" width="15.6" height="2.6" fill="#b9141f" />
<ellipse cx="719.31" cy="106.71" rx="7.8" ry="4.4" fill="#e41f2d" />
<rect x="717.51" y="101.71" width="3.6" height="5" fill="#ececec" />
<ellipse cx="719.31" cy="106.71" rx="1.8" ry="1" fill="#dcdcdc" />
<path class="hose" d="M719.31,102.21 Q719.81,93.71 713.31,87.21" stroke-width="3.6" stroke="#262626" />
<polygon points="714.31,89.21 710.81,82.71 706.81,84.71 710.31,90.71" fill="#f0f0f0" stroke="#f0f0f0" stroke-width="0.45" stroke-linejoin="round" />
<polygon points="709.81,82.21 707.81,85.21 711.81,84.71" fill="#1e7fd6" stroke="#1e7fd6" stroke-width="0.45" stroke-linejoin="round" />
<path class="hose" d="M708.31,84.71 Q697.31,74.71 691.31,82.71 L689.31,90.71" stroke-width="3.6" stroke="#262626" />
</g>
<g id="hoseD">
<path class="hose" d="M335.5,150 L335.5,172 Q335.5,181 343,185.3 L434,232.5" stroke-width="4.4" stroke="#262626" />
</g>
<g id="pump6">
<path class="hose" d="M505,210.5 L446,242 Q428,252.5 414,254.5 Q403,256 397,246" stroke-width="3.6" stroke="#262626" />
<polygon points="420,290 466,264 471,267 425,293" fill="#0c72cc" stroke="#0c72cc" stroke-width="0.45" stroke-linejoin="round" />
<polygon points="437,300 484,273.5 489,276.5 442,303" fill="#0c72cc" stroke="#0c72cc" stroke-width="0.45" stroke-linejoin="round" />
<polygon points="437,300 442,303 442,306 437,303" fill="#0a5cad" stroke="#0a5cad" stroke-width="0.45" stroke-linejoin="round" />
<polygon points="442,303 489,276.5 489,279.5 442,306" fill="#0a5cad" stroke="#0a5cad" stroke-width="0.45" stroke-linejoin="round" />
<polygon points="425,293 471,267 471,270 425,296" fill="#0a5cad" stroke="#0a5cad" stroke-width="0.45" stroke-linejoin="round" />
<polygon points="430,287 447,296.5 444,298.5 427,289" fill="#0c72cc" stroke="#0c72cc" stroke-width="0.45" stroke-linejoin="round" />
<polygon points="458,271 476,281 473,283 455,273" fill="#0c72cc" stroke="#0c72cc" stroke-width="0.45" stroke-linejoin="round" />
<polygon points="425,279 462,258 476,266 439,287.5" fill="#0a5cad" stroke="#0a5cad" stroke-width="0.45" stroke-linejoin="round" />
<polygon points="425,279 439,287.5 439,292 425,283.5" fill="#0b66bd" stroke="#0b66bd" stroke-width="0.45" stroke-linejoin="round" />
<polygon points="439,287.5 476,266 476,270.5 439,292" fill="#0a5cad" stroke="#0a5cad" stroke-width="0.45" stroke-linejoin="round" />
<ellipse cx="468" cy="247" rx="8" ry="10" fill="#0b62b6" />
<polygon points="455.75,242.86 464.75,237.86 471.25,256.14 462.25,261.14" fill="#0b62b6" stroke="#0b62b6" stroke-width="0.45" stroke-linejoin="round" />
<ellipse cx="459" cy="252" rx="8" ry="10" fill="#1274cf" />
<polygon points="461,243 472,239 478,247 478,256 468,260" fill="#1274cf" stroke="#1274cf" stroke-width="0.45" stroke-linejoin="round" />
<ellipse cx="459" cy="253" rx="7" ry="9" fill="#7a1820" />
<polygon points="450.77,247.71 456.27,244.71 461.73,261.29 456.23,264.29" fill="#7a1820" stroke="#7a1820" stroke-width="0.45" stroke-linejoin="round" />
<ellipse cx="453.5" cy="256" rx="7" ry="9" fill="#8f1d26" />
<ellipse cx="451" cy="258.5" rx="12" ry="14.5" fill="#157fc8" />
<polygon points="423.89,257.88 445.89,245.38 456.11,271.62 434.11,284.12" fill="#1e9ae3" stroke="#1e9ae3" stroke-width="0.45" stroke-linejoin="round" />
<ellipse cx="429" cy="271" rx="12" ry="14.5" fill="#4db3ee" />
<ellipse cx="428.3" cy="271.4" rx="9.6" ry="12" fill="#3fa6ea" />
<rect x="446" y="254" width="4" height="2" fill="#b3202a" transform="rotate(-30 448 255)"/>
<line x1="446" y1="238" x2="461" y2="246" stroke="#0b62b6" stroke-width="5.5" />
<polygon points="432,232 437.5,228 449.5,235.5 444,240" fill="#ececec" stroke="#ececec" stroke-width="0.45" stroke-linejoin="round" />
<polygon points="436,234 441.5,230 445.5,232.8 440,236.8" fill="#f8f8f8" stroke="#f8f8f8" stroke-width="0.45" stroke-linejoin="round" />
<polyline points="441,231 446,226 451,223.5" fill="none" stroke="#cfcfcf" stroke-width="1.8" />
<rect x="440.5" y="231.5" width="1.6" height="1.6" fill="#d9353a" />
<line x1="470" y1="251" x2="476" y2="252" stroke="#0b62b6" stroke-width="4" />
<ellipse cx="479.5" cy="252.5" rx="5.6" ry="6.2" fill="#c8161f" />
<ellipse cx="478.8" cy="251.8" rx="5" ry="5.6" fill="#e5222b" />
<polygon points="481.5,259 487,255 497.5,262 492,266.5" fill="#ececec" stroke="#ececec" stroke-width="0.45" stroke-linejoin="round" />
<polygon points="485,261 490.5,257 494,259.5 488.5,263.8" fill="#f8f8f8" stroke="#f8f8f8" stroke-width="0.45" stroke-linejoin="round" />
<polyline points="489,259 495,254 501,251" fill="none" stroke="#cfcfcf" stroke-width="1.8" />
<rect x="488.5" y="259.5" width="1.6" height="1.6" fill="#d9353a" />
<path class="hose" d="M496,265 L504,270" stroke-width="3.6" stroke="#262626" />
</g>
<g id="hoists">
<g transform="translate(72.6,-114.6)">
<polygon points="72.4,475.2 100.8,462.7 149,495 120.8,507.5" fill="#0c72cc" stroke="#0c72cc" stroke-width="0.45" stroke-linejoin="round" />
<polygon points="72.4,475.2 120.8,507.5 120.8,513.5 72.4,481.2" fill="#0a5cad" stroke="#0a5cad" stroke-width="0.45" stroke-linejoin="round" />
<polygon points="120.8,507.5 149,495 149,501 120.8,513.5" fill="#0b66bd" stroke="#0b66bd" stroke-width="0.45" stroke-linejoin="round" />
<polygon points="146,500 151,498 153.5,500 148.5,502.3" fill="#0c72cc" stroke="#0c72cc" stroke-width="0.45" stroke-linejoin="round" />
<polygon points="124,512.5 129,510.5 131,512.5 126,514.8" fill="#0c72cc" stroke="#0c72cc" stroke-width="0.45" stroke-linejoin="round" />
<polygon points="106,453 93,466 96.5,486 108,480" fill="#1a80d8" stroke="#1a80d8" stroke-width="0.45" stroke-linejoin="round" />
<polygon points="106,453 93,466 100,470" fill="#0a5cad" stroke="#0a5cad" stroke-width="0.45" stroke-linejoin="round" />
<polygon points="115.8,458 131,488.5 115.8,487" fill="#0a5cad" stroke="#0a5cad" stroke-width="0.45" stroke-linejoin="round" />
<rect x="105.8" y="288" width="6.4" height="198" fill="#0c72cc" />
<rect x="112.2" y="286" width="3.8" height="200" fill="#0a5cad" />
<polygon points="105.8,288 112,284.6 116,286.6 116,290 112.2,292 105.8,292" fill="#0c72cc" stroke="#0c72cc" stroke-width="0.45" stroke-linejoin="round" />
<polygon points="105.8,295 105.8,324 93.5,303.5" fill="#0a5cad" stroke="#0a5cad" stroke-width="0.45" stroke-linejoin="round" />
<polygon points="112,284.6 116,286.6 62,318.5 58,316.5" fill="#2b8fe0" stroke="#2b8fe0" stroke-width="0.45" stroke-linejoin="round" />
<polygon points="112.2,288.5 112.2,296 62,326 62,318.5" fill="#0c72cc" stroke="#0c72cc" stroke-width="0.45" stroke-linejoin="round" />
<polygon points="105.8,288.5 105.8,296.5 62,322 58,316.5" fill="#0c72cc" stroke="#0c72cc" stroke-width="0.45" stroke-linejoin="round" />
<polygon points="50,321 73,308.5 80,312 80,321.5 56,336.5" fill="#1578d2" stroke="#1578d2" stroke-width="0.45" stroke-linejoin="round" />
<polygon points="50,321 73,308.5 78,311 55,324" fill="#2b8fe0" stroke="#2b8fe0" stroke-width="0.45" stroke-linejoin="round" />
<ellipse cx="52.3" cy="329" rx="4.6" ry="8.6" fill="#1f86dc" transform="rotate(-12 52.3 329)"/>
<polygon points="66,327 78,320 78,323 70,329.5" fill="#157fc8" stroke="#157fc8" stroke-width="0.45" stroke-linejoin="round" />
<line x1="57.5" y1="336" x2="57.5" y2="397" stroke="#9a9a9a" stroke-width="0.9" />
</g>
<path d="M112,342.5 L112,388.5 A19.5,10 0 0 0 151,388.5 L151,342.5 Z" fill="url(#gDrum)" />
<path d="M112,357.5 A19.5,10 0 0 0 151,357.5" fill="none" stroke="#c9c9c9" stroke-width="0.8" />
<path d="M112,360 A19.5,10 0 0 0 151,360" fill="none" stroke="#c9c9c9" stroke-width="0.8" />
<path d="M112,374.5 A19.5,10 0 0 0 151,374.5" fill="none" stroke="#c9c9c9" stroke-width="0.8" />
<path d="M112,377 A19.5,10 0 0 0 151,377" fill="none" stroke="#c9c9c9" stroke-width="0.8" />
<ellipse cx="131.5" cy="342.5" rx="19.5" ry="10" fill="#cdcdcd" />
<ellipse cx="131.5" cy="343.3" rx="18.3" ry="8.8" fill="#e6e6e6" />
<path class="hose" d="M201.5,290 L201.5,300 Q201.5,307 195,310.5 L152,334.5 Q145,337 137,332" stroke-width="3.4" stroke="#262626" />
<g transform="translate(72.6,-114.6)">
<rect x="55.6" y="440" width="4" height="14" fill="#f2f2f2" />
<ellipse cx="57.6" cy="454" rx="3" ry="1.5" fill="#fafafa" />
<rect x="59" y="443.2" width="5" height="3" fill="#ddd" />
<rect x="53.5" y="430" width="8.5" height="9" fill="#157fc8" />
<rect x="54.5" y="437" width="6.5" height="5" fill="#1e9ae3" />
<rect x="49" y="401" width="17.5" height="32" fill="#1e9ae3" rx="3"/>
<rect x="49" y="401" width="6" height="32" fill="#4db3ee" rx="2.5"/>
<rect x="61" y="403" width="5.5" height="28" fill="#157fc8" rx="2"/>
<rect x="49" y="417" width="17.5" height="2" fill="#157fc8" />
<path d="M51,402 L51,396.5 Q51,394.8 53,395.5 L62,399 L62,403" fill="none" stroke="#157fc8" stroke-width="1.6" />
<ellipse cx="57.8" cy="401.5" rx="8.6" ry="3.2" fill="#4db3ee" />
<rect x="61.5" y="425" width="2.2" height="3" fill="#c1272d" />
</g>
<g transform="translate(36.3,-57.3)">
<polygon points="72.4,475.2 100.8,462.7 149,495 120.8,507.5" fill="#0c72cc" stroke="#0c72cc" stroke-width="0.45" stroke-linejoin="round" />
<polygon points="72.4,475.2 120.8,507.5 120.8,513.5 72.4,481.2" fill="#0a5cad" stroke="#0a5cad" stroke-width="0.45" stroke-linejoin="round" />
<polygon points="120.8,507.5 149,495 149,501 120.8,513.5" fill="#0b66bd" stroke="#0b66bd" stroke-width="0.45" stroke-linejoin="round" />
<polygon points="146,500 151,498 153.5,500 148.5,502.3" fill="#0c72cc" stroke="#0c72cc" stroke-width="0.45" stroke-linejoin="round" />
<polygon points="124,512.5 129,510.5 131,512.5 126,514.8" fill="#0c72cc" stroke="#0c72cc" stroke-width="0.45" stroke-linejoin="round" />
<polygon points="106,453 93,466 96.5,486 108,480" fill="#1a80d8" stroke="#1a80d8" stroke-width="0.45" stroke-linejoin="round" />
<polygon points="106,453 93,466 100,470" fill="#0a5cad" stroke="#0a5cad" stroke-width="0.45" stroke-linejoin="round" />
<polygon points="115.8,458 131,488.5 115.8,487" fill="#0a5cad" stroke="#0a5cad" stroke-width="0.45" stroke-linejoin="round" />
<rect x="105.8" y="288" width="6.4" height="198" fill="#0c72cc" />
<rect x="112.2" y="286" width="3.8" height="200" fill="#0a5cad" />
<polygon points="105.8,288 112,284.6 116,286.6 116,290 112.2,292 105.8,292" fill="#0c72cc" stroke="#0c72cc" stroke-width="0.45" stroke-linejoin="round" />
<polygon points="105.8,295 105.8,324 93.5,303.5" fill="#0a5cad" stroke="#0a5cad" stroke-width="0.45" stroke-linejoin="round" />
<polygon points="112,284.6 116,286.6 62,318.5 58,316.5" fill="#2b8fe0" stroke="#2b8fe0" stroke-width="0.45" stroke-linejoin="round" />
<polygon points="112.2,288.5 112.2,296 62,326 62,318.5" fill="#0c72cc" stroke="#0c72cc" stroke-width="0.45" stroke-linejoin="round" />
<polygon points="105.8,288.5 105.8,296.5 62,322 58,316.5" fill="#0c72cc" stroke="#0c72cc" stroke-width="0.45" stroke-linejoin="round" />
<polygon points="50,321 73,308.5 80,312 80,321.5 56,336.5" fill="#1578d2" stroke="#1578d2" stroke-width="0.45" stroke-linejoin="round" />
<polygon points="50,321 73,308.5 78,311 55,324" fill="#2b8fe0" stroke="#2b8fe0" stroke-width="0.45" stroke-linejoin="round" />
<ellipse cx="52.3" cy="329" rx="4.6" ry="8.6" fill="#1f86dc" transform="rotate(-12 52.3 329)"/>
<polygon points="66,327 78,320 78,323 70,329.5" fill="#157fc8" stroke="#157fc8" stroke-width="0.45" stroke-linejoin="round" />
<line x1="57.5" y1="336" x2="57.5" y2="397" stroke="#9a9a9a" stroke-width="0.9" />
</g>
<path d="M74.5,401 L74.5,447 A20,10.2 0 0 0 114.5,447 L114.5,401 Z" fill="url(#gDrum)" />
<path d="M74.5,416 A20,10.2 0 0 0 114.5,416" fill="none" stroke="#c9c9c9" stroke-width="0.8" />
<path d="M74.5,418.5 A20,10.2 0 0 0 114.5,418.5" fill="none" stroke="#c9c9c9" stroke-width="0.8" />
<path d="M74.5,433 A20,10.2 0 0 0 114.5,433" fill="none" stroke="#c9c9c9" stroke-width="0.8" />
<path d="M74.5,435.5 A20,10.2 0 0 0 114.5,435.5" fill="none" stroke="#c9c9c9" stroke-width="0.8" />
<ellipse cx="94.5" cy="401" rx="20" ry="10.2" fill="#cdcdcd" />
<ellipse cx="94.5" cy="401.8" rx="18.8" ry="9" fill="#e6e6e6" />
<path class="hose" d="M208.2,290 L208.2,333 Q208.2,340 202,343.5 L116,390.5 Q109,393.5 101,388.5" stroke-width="3.4" stroke="#262626" />
<g transform="translate(36.3,-57.3)">
<rect x="55.6" y="440" width="4" height="14" fill="#f2f2f2" />
<ellipse cx="57.6" cy="454" rx="3" ry="1.5" fill="#fafafa" />
<rect x="59" y="443.2" width="5" height="3" fill="#ddd" />
<rect x="53.5" y="430" width="8.5" height="9" fill="#157fc8" />
<rect x="54.5" y="437" width="6.5" height="5" fill="#1e9ae3" />
<rect x="49" y="401" width="17.5" height="32" fill="#1e9ae3" rx="3"/>
<rect x="49" y="401" width="6" height="32" fill="#4db3ee" rx="2.5"/>
<rect x="61" y="403" width="5.5" height="28" fill="#157fc8" rx="2"/>
<rect x="49" y="417" width="17.5" height="2" fill="#157fc8" />
<path d="M51,402 L51,396.5 Q51,394.8 53,395.5 L62,399 L62,403" fill="none" stroke="#157fc8" stroke-width="1.6" />
<ellipse cx="57.8" cy="401.5" rx="8.6" ry="3.2" fill="#4db3ee" />
<rect x="61.5" y="425" width="2.2" height="3" fill="#c1272d" />
</g>
<g transform="translate(0,0)">
<polygon points="72.4,475.2 100.8,462.7 149,495 120.8,507.5" fill="#0c72cc" stroke="#0c72cc" stroke-width="0.45" stroke-linejoin="round" />
<polygon points="72.4,475.2 120.8,507.5 120.8,513.5 72.4,481.2" fill="#0a5cad" stroke="#0a5cad" stroke-width="0.45" stroke-linejoin="round" />
<polygon points="120.8,507.5 149,495 149,501 120.8,513.5" fill="#0b66bd" stroke="#0b66bd" stroke-width="0.45" stroke-linejoin="round" />
<polygon points="146,500 151,498 153.5,500 148.5,502.3" fill="#0c72cc" stroke="#0c72cc" stroke-width="0.45" stroke-linejoin="round" />
<polygon points="124,512.5 129,510.5 131,512.5 126,514.8" fill="#0c72cc" stroke="#0c72cc" stroke-width="0.45" stroke-linejoin="round" />
<polygon points="106,453 93,466 96.5,486 108,480" fill="#1a80d8" stroke="#1a80d8" stroke-width="0.45" stroke-linejoin="round" />
<polygon points="106,453 93,466 100,470" fill="#0a5cad" stroke="#0a5cad" stroke-width="0.45" stroke-linejoin="round" />
<polygon points="115.8,458 131,488.5 115.8,487" fill="#0a5cad" stroke="#0a5cad" stroke-width="0.45" stroke-linejoin="round" />
<rect x="105.8" y="288" width="6.4" height="198" fill="#0c72cc" />
<rect x="112.2" y="286" width="3.8" height="200" fill="#0a5cad" />
<polygon points="105.8,288 112,284.6 116,286.6 116,290 112.2,292 105.8,292" fill="#0c72cc" stroke="#0c72cc" stroke-width="0.45" stroke-linejoin="round" />
<polygon points="105.8,295 105.8,324 93.5,303.5" fill="#0a5cad" stroke="#0a5cad" stroke-width="0.45" stroke-linejoin="round" />
<polygon points="112,284.6 116,286.6 62,318.5 58,316.5" fill="#2b8fe0" stroke="#2b8fe0" stroke-width="0.45" stroke-linejoin="round" />
<polygon points="112.2,288.5 112.2,296 62,326 62,318.5" fill="#0c72cc" stroke="#0c72cc" stroke-width="0.45" stroke-linejoin="round" />
<polygon points="105.8,288.5 105.8,296.5 62,322 58,316.5" fill="#0c72cc" stroke="#0c72cc" stroke-width="0.45" stroke-linejoin="round" />
<polygon points="50,321 73,308.5 80,312 80,321.5 56,336.5" fill="#1578d2" stroke="#1578d2" stroke-width="0.45" stroke-linejoin="round" />
<polygon points="50,321 73,308.5 78,311 55,324" fill="#2b8fe0" stroke="#2b8fe0" stroke-width="0.45" stroke-linejoin="round" />
<ellipse cx="52.3" cy="329" rx="4.6" ry="8.6" fill="#1f86dc" transform="rotate(-12 52.3 329)"/>
<polygon points="66,327 78,320 78,323 70,329.5" fill="#157fc8" stroke="#157fc8" stroke-width="0.45" stroke-linejoin="round" />
<line x1="57.5" y1="336" x2="57.5" y2="397" stroke="#9a9a9a" stroke-width="0.9" />
</g>
<path class="hose" d="M214,290 L214,364 Q214,371 208,374.5 L80,446.5 Q73,450 64,445" stroke-width="3.4" stroke="#262626" />
<path d="M36.7,460 L36.7,506 A20.8,11 0 0 0 78.3,506 L78.3,460 Z" fill="url(#gDrum)" />
<path d="M36.7,475 A20.8,11 0 0 0 78.3,475" fill="none" stroke="#c9c9c9" stroke-width="0.8" />
<path d="M36.7,477.5 A20.8,11 0 0 0 78.3,477.5" fill="none" stroke="#c9c9c9" stroke-width="0.8" />
<path d="M36.7,492 A20.8,11 0 0 0 78.3,492" fill="none" stroke="#c9c9c9" stroke-width="0.8" />
<path d="M36.7,494.5 A20.8,11 0 0 0 78.3,494.5" fill="none" stroke="#c9c9c9" stroke-width="0.8" />
<ellipse cx="57.5" cy="460" rx="20.8" ry="11" fill="#cdcdcd" />
<ellipse cx="57.5" cy="460.8" rx="19.6" ry="9.8" fill="#e6e6e6" />
<g transform="translate(0,0)">
<rect x="55.6" y="440" width="4" height="14" fill="#f2f2f2" />
<ellipse cx="57.6" cy="454" rx="3" ry="1.5" fill="#fafafa" />
<rect x="59" y="443.2" width="5" height="3" fill="#ddd" />
<rect x="53.5" y="430" width="8.5" height="9" fill="#157fc8" />
<rect x="54.5" y="437" width="6.5" height="5" fill="#1e9ae3" />
<rect x="49" y="401" width="17.5" height="32" fill="#1e9ae3" rx="3"/>
<rect x="49" y="401" width="6" height="32" fill="#4db3ee" rx="2.5"/>
<rect x="61" y="403" width="5.5" height="28" fill="#157fc8" rx="2"/>
<rect x="49" y="417" width="17.5" height="2" fill="#157fc8" />
<path d="M51,402 L51,396.5 Q51,394.8 53,395.5 L62,399 L62,403" fill="none" stroke="#157fc8" stroke-width="1.6" />
<ellipse cx="57.8" cy="401.5" rx="8.6" ry="3.2" fill="#4db3ee" />
<rect x="61.5" y="425" width="2.2" height="3" fill="#c1272d" />
</g>
</g>
<g id="stairs">
<polygon points="263,186 296,205 296,249 263,229" fill="#000" fill-opacity="0.16"/>
<polygon points="263.7,228.4 300,207.5 338.2,216 375,300 349.48,300" fill="#f3f3f3" stroke="#f3f3f3" stroke-width="0.45" stroke-linejoin="round" />
<polygon points="315.25,236 338.2,231 375,300 349.48,300" fill="#dcdcdc" stroke="#dcdcdc" stroke-width="0.45" stroke-linejoin="round" />
<polygon points="324.33,205 381.23,205 428,292 352.6,258" fill="#c3c3c3" stroke="#c3c3c3" stroke-width="0.45" stroke-linejoin="round" />
<polygon points="343,240 400.04,240 428,292 354.73,262" fill="#b2b2b2" stroke="#b2b2b2" stroke-width="0.45" stroke-linejoin="round" />
<polygon points="263.7,228.4 332.4,268 369.53,337.5 263.7,285" fill="#e5e5e5" stroke="#e5e5e5" stroke-width="0.45" stroke-linejoin="round" />
<polygon points="298,248.5 323.81,252 333.43,270 330,268.5" fill="#c9c9c9" stroke="#c9c9c9" stroke-width="0.45" stroke-linejoin="round" />
<g transform="translate(270,251.8) skewY(29)">
<rect x="0" y="0" width="13.6" height="27" fill="#777" />
<rect x="2.02" y="0" width="0.5" height="27" fill="#cfcfcf" />
<rect x="4.29" y="0" width="0.5" height="27" fill="#cfcfcf" />
<rect x="6.56" y="0" width="0.5" height="27" fill="#cfcfcf" />
<rect x="8.83" y="0" width="0.5" height="27" fill="#cfcfcf" />
<rect x="11.1" y="0" width="0.5" height="27" fill="#cfcfcf" />
<rect x="0" y="2.75" width="13.6" height="0.5" fill="#cfcfcf" />
<rect x="0" y="5.75" width="13.6" height="0.5" fill="#cfcfcf" />
<rect x="0" y="8.75" width="13.6" height="0.5" fill="#cfcfcf" />
<rect x="0" y="11.75" width="13.6" height="0.5" fill="#cfcfcf" />
<rect x="0" y="14.75" width="13.6" height="0.5" fill="#cfcfcf" />
<rect x="0" y="17.75" width="13.6" height="0.5" fill="#cfcfcf" />
<rect x="0" y="20.75" width="13.6" height="0.5" fill="#cfcfcf" />
<rect x="0" y="23.75" width="13.6" height="0.5" fill="#cfcfcf" />
</g>
<line x1="261.2" y1="130" x2="261.2" y2="296" stroke="#0c72cc" stroke-width="4.4" stroke-linecap="butt"/>
<line x1="295.3" y1="149" x2="295.3" y2="249" stroke="#0c72cc" stroke-width="4.2" stroke-linecap="butt"/>
<line x1="293.5" y1="248" x2="331" y2="269.5" stroke="#0c72cc" stroke-width="3.2" stroke-linecap="butt"/>
<line x1="295" y1="290" x2="295" y2="317" stroke="#0c72cc" stroke-width="3.4" stroke-linecap="butt"/>
<line x1="388.3" y1="316" x2="388.3" y2="367" stroke="#0c72cc" stroke-width="3.6" stroke-linecap="butt"/>
<line x1="325" y1="92" x2="325" y2="156" stroke="#0c72cc" stroke-width="4.2" stroke-linecap="butt"/>
<line x1="357.3" y1="112" x2="357.3" y2="174" stroke="#0c72cc" stroke-width="4.2" stroke-linecap="butt"/>
<polygon points="263.3,187.5 324,154 356.7,173.3 296.7,206.7" fill="#0c72cc" stroke="#0c72cc" stroke-width="0.45" stroke-linejoin="round" />
<polygon points="263.3,187.5 296.7,206.7 296.7,208.5 263.3,189.3" fill="#0a5cad" stroke="#0a5cad" stroke-width="0.45" stroke-linejoin="round" />
<polygon points="304.8,222.1 370.8,191.6 380.8,206.4 314.8,236.9" fill="#0c72cc" stroke="#0c72cc" stroke-width="0.45" stroke-linejoin="round" />
<polygon points="314.8,236.9 380.8,206.4 380.8,207.9 314.8,238.4" fill="#0a5cad" stroke="#0a5cad" stroke-width="0.45" stroke-linejoin="round" />
<polygon points="321.9,254.4 387.9,223.9 397.9,238.7 331.9,269.2" fill="#0c72cc" stroke="#0c72cc" stroke-width="0.45" stroke-linejoin="round" />
<polygon points="331.9,269.2 397.9,238.7 397.9,240.2 331.9,270.7" fill="#0a5cad" stroke="#0a5cad" stroke-width="0.45" stroke-linejoin="round" />
<polygon points="339,286.7 405,256.2 415,271 349,301.5" fill="#0c72cc" stroke="#0c72cc" stroke-width="0.45" stroke-linejoin="round" />
<polygon points="349,301.5 415,271 415,272.5 349,303" fill="#0a5cad" stroke="#0a5cad" stroke-width="0.45" stroke-linejoin="round" />
<polygon points="356.1,319 422.1,288.5 432.1,303.3 366.1,333.8" fill="#0c72cc" stroke="#0c72cc" stroke-width="0.45" stroke-linejoin="round" />
<polygon points="366.1,333.8 432.1,303.3 432.1,304.8 366.1,335.3" fill="#0a5cad" stroke="#0a5cad" stroke-width="0.45" stroke-linejoin="round" />
<line x1="372" y1="243" x2="418" y2="270" stroke="#0c72cc" stroke-width="2.6" stroke-linecap="butt"/>
<line x1="363.48" y1="172" x2="450.58" y2="334" stroke="#0c72cc" stroke-width="3.8" stroke-linecap="butt"/>
<line x1="317.4" y1="192" x2="384.07" y2="317" stroke="#0c72cc" stroke-width="3.4" stroke-linecap="butt"/>
<line x1="293.86" y1="196" x2="385.3" y2="367" stroke="#0c72cc" stroke-width="3.8" stroke-linecap="butt"/>
<line x1="259.5" y1="130.3" x2="325.5" y2="92" stroke="#0c72cc" stroke-width="4.4" stroke-linecap="butt"/>
<line x1="324.5" y1="92.3" x2="359.3" y2="112.6" stroke="#0c72cc" stroke-width="4.4" stroke-linecap="butt"/>
<line x1="260.5" y1="129.3" x2="297" y2="150.3" stroke="#0c72cc" stroke-width="4.4" stroke-linecap="butt"/>
</g>
<g id="cabinet">
<path class="hose" d="M610,223 L735,296 Q751.3,305 751.3,290 L751.3,268" stroke-width="4.2" stroke="#262626" />
<path class="hose" d="M612,303.5 L676,340.5" stroke-width="4.2" stroke="#262626" />
<path class="hose" d="M612,315 L670,348" stroke-width="4.2" stroke="#262626" />
<path class="hose" d="M612,323.5 L654,348 Q664,354 656,359.5 L624,379.5 Q616,385.5 624,391 L646,405 Q659.2,412 659.2,398 L659.2,379 Q659.2,372 666,371 L671,372" stroke-width="3.4" stroke="#262626" />
<path class="hose" d="M612,334.3 L640,350.5 Q650,356.5 642,361.5 L580,397.5 Q568,405 580,412.5 L626,443.5 Q639.2,452.5 639.2,438 L639.2,389 Q639.2,380 646,375.5 L656,367.5" stroke-width="4.5" stroke="#262626" />
<rect x="608" y="360" width="6" height="5" fill="#cfcfcf" />
<ellipse cx="611" cy="366.5" rx="3.4" ry="4.6" fill="#bdbdbd" />
<ellipse cx="611.6" cy="366.5" rx="2" ry="3" fill="#e5e5e5" />
<polygon points="503,213 556,244 556,391 503,364.5" fill="#e8e8e8" stroke="#e8e8e8" stroke-width="0.45" stroke-linejoin="round" />
<polygon points="556,244 619,206 619,356.5 556,391" fill="#dedede" stroke="#dedede" stroke-width="0.45" stroke-linejoin="round" />
<polygon points="503,298.5 556,327 556,331.5 503,303" fill="#d2d2d2" stroke="#d2d2d2" stroke-width="0.45" stroke-linejoin="round" />
<polygon points="556,327 619,292.5 619,297 556,331.5" fill="#c9c9c9" stroke="#c9c9c9" stroke-width="0.45" stroke-linejoin="round" />
<polygon points="503,303 556,331.5 556,333 503,304.5" fill="#f4f4f4" stroke="#f4f4f4" stroke-width="0.45" stroke-linejoin="round" />
<polygon points="556,331.5 619,297 619,298.5 556,333" fill="#efefef" stroke="#efefef" stroke-width="0.45" stroke-linejoin="round" />
<polygon points="560,249 615,216 615,290 560,322" fill="#c2c2c2" stroke="#c2c2c2" stroke-width="0.45" stroke-linejoin="round" />
<polygon points="605,222 615,216 615,290 605,296" fill="#b3b3b3" stroke="#b3b3b3" stroke-width="0.45" stroke-linejoin="round" />
<polygon points="560,318 615,286.5 615,290 560,322" fill="#f1f1f1" stroke="#f1f1f1" stroke-width="0.45" stroke-linejoin="round" />
<polygon points="567.5,238 603.5,217 603.5,281 567.5,302" fill="#f1f1f1" stroke="#f1f1f1" stroke-width="0.45" stroke-linejoin="round" />
<polygon points="567.5,238 603.5,217 603.5,236 567.5,257" fill="#f8f8f8" stroke="#f8f8f8" stroke-width="0.45" stroke-linejoin="round" />
<line x1="567.5" y1="257" x2="603.5" y2="236" stroke="#c9c9c9" stroke-width="0.7" />
<polygon points="560,249 567.5,244.7 567.5,302 560,306.5" fill="#d8d8d8" stroke="#d8d8d8" stroke-width="0.45" stroke-linejoin="round" />
<ellipse cx="579" cy="256.5" rx="1.7" ry="1.9" fill="#fafafa" stroke="#999" stroke-width="0.4" />
<ellipse cx="579" cy="256.5" rx="1" ry="1.1" fill="#e23a3a" />
<ellipse cx="584.2" cy="253.5" rx="1.7" ry="1.9" fill="#fafafa" stroke="#999" stroke-width="0.4" />
<ellipse cx="584.2" cy="253.5" rx="1" ry="1.1" fill="#f0b429" />
<ellipse cx="589.4" cy="250.5" rx="1.7" ry="1.9" fill="#fafafa" stroke="#999" stroke-width="0.4" />
<ellipse cx="589.4" cy="250.5" rx="1" ry="1.1" fill="#e23a3a" />
<ellipse cx="579" cy="264.7" rx="1.7" ry="1.9" fill="#fafafa" stroke="#999" stroke-width="0.4" />
<ellipse cx="579" cy="264.7" rx="1" ry="1.1" fill="#3fae49" />
<ellipse cx="584.2" cy="261.7" rx="1.7" ry="1.9" fill="#fafafa" stroke="#999" stroke-width="0.4" />
<ellipse cx="584.2" cy="261.7" rx="1" ry="1.1" fill="#e23a3a" />
<ellipse cx="589.4" cy="258.7" rx="1.7" ry="1.9" fill="#fafafa" stroke="#999" stroke-width="0.4" />
<ellipse cx="589.4" cy="258.7" rx="1" ry="1.1" fill="#f0b429" />
<ellipse cx="584.2" cy="269.9" rx="1.7" ry="1.9" fill="#fafafa" stroke="#999" stroke-width="0.4" />
<ellipse cx="584.2" cy="269.9" rx="1" ry="1.1" fill="#2d7fd3" />
<ellipse cx="589.4" cy="266.9" rx="1.7" ry="1.9" fill="#fafafa" stroke="#999" stroke-width="0.4" />
<ellipse cx="589.4" cy="266.9" rx="1" ry="1.1" fill="#e23a3a" />
<ellipse cx="579" cy="281.1" rx="1.7" ry="1.9" fill="#fafafa" stroke="#999" stroke-width="0.4" />
<ellipse cx="579" cy="281.1" rx="1" ry="1.1" fill="#e23a3a" />
<polygon points="576.5,270.5 582.5,267 582.5,277.5 576.5,281" fill="#2a2a2a" stroke="#2a2a2a" stroke-width="0.45" stroke-linejoin="round" />
<polygon points="577.5,273 581.5,270.7 581.5,274.5 577.5,276.8" fill="#c1272d" stroke="#c1272d" stroke-width="0.45" stroke-linejoin="round" />
<ellipse cx="586" cy="291" rx="1.6" ry="1.8" fill="#fafafa" stroke="#999" stroke-width="0.4" />
<ellipse cx="586" cy="291" rx="0.9" ry="1" fill="#e23a3a" />
<line x1="562" y1="308" x2="562" y2="319" stroke="#4a4a4a" stroke-width="0.7" />
<line x1="563.6" y1="307.1" x2="563.6" y2="318.1" stroke="#4a4a4a" stroke-width="0.7" />
<line x1="565.2" y1="306.2" x2="565.2" y2="317.2" stroke="#4a4a4a" stroke-width="0.7" />
<g transform="translate(587.5,344.5) skewY(-29)">
<rect x="0" y="0" width="15" height="25" fill="#8a8a8a" />
<rect x="2.2" y="0" width="0.6" height="25" fill="#dcdcdc" />
<rect x="4.7" y="0" width="0.6" height="25" fill="#dcdcdc" />
<rect x="7.2" y="0" width="0.6" height="25" fill="#dcdcdc" />
<rect x="9.7" y="0" width="0.6" height="25" fill="#dcdcdc" />
<rect x="12.2" y="0" width="0.6" height="25" fill="#dcdcdc" />
<rect x="0" y="2.5" width="15" height="0.6" fill="#dcdcdc" />
<rect x="0" y="5.3" width="15" height="0.6" fill="#dcdcdc" />
<rect x="0" y="8.1" width="15" height="0.6" fill="#dcdcdc" />
<rect x="0" y="10.9" width="15" height="0.6" fill="#dcdcdc" />
<rect x="0" y="13.7" width="15" height="0.6" fill="#dcdcdc" />
<rect x="0" y="16.5" width="15" height="0.6" fill="#dcdcdc" />
<rect x="0" y="19.3" width="15" height="0.6" fill="#dcdcdc" />
<rect x="0" y="22.1" width="15" height="0.6" fill="#dcdcdc" />
</g>
<rect x="553.6" y="345.5" width="3" height="35" fill="#f4f4f4" />
<rect x="554.5" y="347" width="1.2" height="32" fill="#9b9b9b" />
<g transform="translate(509,251.5) skewY(29)">
<rect x="-1.5" y="-1.5" width="11.5" height="23" fill="#f6f6f6" />
<rect x="0" y="0" width="8.5" height="20" fill="#7b7b7b" />
<rect x="0" y="2.25" width="8.5" height="0.5" fill="#a5a5a5" />
<rect x="0" y="4.75" width="8.5" height="0.5" fill="#a5a5a5" />
<rect x="0" y="7.25" width="8.5" height="0.5" fill="#a5a5a5" />
<rect x="0" y="9.75" width="8.5" height="0.5" fill="#a5a5a5" />
<rect x="0" y="12.25" width="8.5" height="0.5" fill="#a5a5a5" />
<rect x="0" y="14.75" width="8.5" height="0.5" fill="#a5a5a5" />
<rect x="0" y="17.25" width="8.5" height="0.5" fill="#a5a5a5" />
</g>
<g transform="translate(531.5,267.5) skewY(29)">
<rect x="-1.5" y="-1.5" width="11.5" height="23" fill="#f6f6f6" />
<rect x="0" y="0" width="8.5" height="20" fill="#7b7b7b" />
<rect x="0" y="2.25" width="8.5" height="0.5" fill="#a5a5a5" />
<rect x="0" y="4.75" width="8.5" height="0.5" fill="#a5a5a5" />
<rect x="0" y="7.25" width="8.5" height="0.5" fill="#a5a5a5" />
<rect x="0" y="9.75" width="8.5" height="0.5" fill="#a5a5a5" />
<rect x="0" y="12.25" width="8.5" height="0.5" fill="#a5a5a5" />
<rect x="0" y="14.75" width="8.5" height="0.5" fill="#a5a5a5" />
<rect x="0" y="17.25" width="8.5" height="0.5" fill="#a5a5a5" />
</g>
<polygon points="503,209.5 556,240 556,245 503,214.5" fill="#dadada" stroke="#dadada" stroke-width="0.45" stroke-linejoin="round" />
<polygon points="556,240 619,202.5 619,207.5 556,245" fill="#cfcfcf" stroke="#cfcfcf" stroke-width="0.45" stroke-linejoin="round" />
<polygon points="503,209.5 566,172.5 619,202.5 556,240" fill="#f3f3f3" stroke="#f3f3f3" stroke-width="0.45" stroke-linejoin="round" />
<g transform="matrix(0.885 -0.466 1.14 0.66 550 211.6)">
<text x="0" y="0" font-family="Liberation Sans, sans-serif" font-weight="700" font-size="9.5" fill="#1a1a1a" textLength="38" lengthAdjust="spacingAndGlyphs">VORTEXPROM</text>
</g>
<ellipse cx="562.5" cy="200" rx="16.5" ry="6.6" fill="none" stroke="#1a1a1a" stroke-width="0.9" transform="rotate(37 562.5 200)"/>
<path d="M545.5,192.5 L551,188.5 M571,213.5 Q566,207 561.5,200.5 Q559,196 560.5,193.5" fill="none" stroke="#1a1a1a" stroke-width="0.9" />
<rect x="506" y="364" width="6" height="5" fill="#cfcfcf" />
<ellipse cx="509" cy="370.5" rx="3.4" ry="4.6" fill="#bdbdbd" />
<ellipse cx="509.6" cy="370.5" rx="2" ry="3" fill="#e5e5e5" />
<rect x="549.5" y="392" width="6" height="5" fill="#cfcfcf" />
<ellipse cx="552.5" cy="398.5" rx="3.4" ry="4.6" fill="#bdbdbd" />
<ellipse cx="553.1" cy="398.5" rx="2" ry="3" fill="#e5e5e5" />
</g>
<g id="reactor">
<ellipse cx="747.5" cy="413.5" rx="2.2" ry="3.2" fill="#d8232a" />
<ellipse cx="748" cy="413.5" rx="1" ry="1.6" fill="#f2b5b7" />
<polygon points="648.75,420 688.75,442.5 688.75,447 648.75,424.5" fill="#bdbdbd" stroke="#bdbdbd" stroke-width="0.45" stroke-linejoin="round" />
<polygon points="688.75,442.5 750,405 750,409.5 688.75,447" fill="#a9a9a9" stroke="#a9a9a9" stroke-width="0.45" stroke-linejoin="round" />
<polygon points="648.75,420 710,385 750,405 688.75,442.5" fill="url(#pDiamond)" />
<ellipse cx="651.5" cy="428" rx="2.2" ry="3.2" fill="#d8232a" />
<ellipse cx="652" cy="428" rx="1" ry="1.6" fill="#f2b5b7" />
<ellipse cx="689" cy="448.5" rx="2.2" ry="3.2" fill="#d8232a" />
<ellipse cx="689.5" cy="448.5" rx="1" ry="1.6" fill="#f2b5b7" />
<path class="hose" d="M708,360 Q716,368.5 724,368.5 Q731,368.5 731,360 L731,344" stroke-width="3" stroke="#262626" />
<path class="hose" d="M676,372 Q682,380 688,376" stroke-width="3" stroke="#262626" />
<polygon points="681,406 697.5,397 714,406 697.5,416" fill="#e31f26" stroke="#e31f26" stroke-width="0.45" stroke-linejoin="round" />
<polygon points="681,406 697.5,416 697.5,420 681,410" fill="#e31f26" stroke="#e31f26" stroke-width="0.45" stroke-linejoin="round" />
<polygon points="697.5,416 714,406 714,410 697.5,420" fill="#a80f18" stroke="#a80f18" stroke-width="0.45" stroke-linejoin="round" />
<rect x="688" y="360" width="11" height="51" fill="#e31f26" />
<polygon points="699,360 707,356 707,406 699,411" fill="#a80f18" stroke="#a80f18" stroke-width="0.45" stroke-linejoin="round" />
<path class="hose" d="M745,314 L762,304 Q770,299 772,291 L775,283" stroke-width="3.6" stroke="#262626" />
<ellipse cx="742" cy="321" rx="11" ry="18.5" fill="#0a57a6" />
<polygon points="672.78,337.31 738.78,303.31 745.22,338.69 679.22,372.69" fill="url(#gCyl)" />
<ellipse cx="676" cy="355" rx="11" ry="18.5" fill="#1376d2" />
<ellipse cx="676" cy="355" rx="8.5" ry="14" fill="#0c6fca" />
<polygon points="668.98,343.93 673.48,341.63 678.52,368.37 674.02,370.67" fill="#0c6fca" stroke="#0c6fca" stroke-width="0.45" stroke-linejoin="round" />
<ellipse cx="671.5" cy="357.3" rx="8.5" ry="14" fill="#1a84de" />
<ellipse cx="671.5" cy="357.3" rx="5.5" ry="9" fill="#0a5cad" />
<polygon points="666.89,350.19 669.89,348.69 673.11,365.91 670.11,367.41" fill="#0a5cad" stroke="#0a5cad" stroke-width="0.45" stroke-linejoin="round" />
<ellipse cx="668.5" cy="358.8" rx="5.5" ry="9" fill="#1578d2" />
<ellipse cx="668.5" cy="358.8" rx="2.6" ry="4.2" fill="#0a4f96" />
<polygon points="655,366 661,362.5 663,365.5 657,369" fill="#cfcfcf" stroke="#cfcfcf" stroke-width="0.45" stroke-linejoin="round" />
<ellipse cx="720" cy="333" rx="13.5" ry="23.5" fill="#b5121b" />
<polygon points="704.62,316.49 716.12,310.49 723.88,355.51 712.38,361.51" fill="#c8161f" stroke="#c8161f" stroke-width="0.45" stroke-linejoin="round" />
<ellipse cx="708.5" cy="339" rx="13.5" ry="23.5" fill="#e5222b" />
<ellipse cx="742" cy="321" rx="11" ry="18.5" fill="#0a57a6" />
<polygon points="717.59,314.91 738.59,303.41 745.41,338.59 724.41,350.09" fill="url(#gCyl)" />
<ellipse cx="721" cy="332.5" rx="11" ry="18.5" fill="#0c6fca" />
<ellipse cx="742" cy="321" rx="11" ry="18.5" fill="#0c62b8" />
<path d="M706,318.5 A13.5,23.5 0 0 0 706,359.5 A10,21 0 0 1 706,318.5 Z" fill="#f04a52" />
<line x1="686" y1="327.5" x2="669" y2="332.5" stroke="#e31f26" stroke-width="1.1" />
<line x1="686" y1="327.5" x2="699" y2="313" stroke="#e31f26" stroke-width="1.1" />
<ellipse cx="686" cy="327.5" rx="3.3" ry="3.3" fill="#e31f26" />
<g transform="matrix(0.89 -0.46 0 1 687 358.5)"><text x="0" y="0" font-family="Liberation Sans, sans-serif" font-weight="700" font-size="5.2" fill="#ffffff" textLength="25" lengthAdjust="spacingAndGlyphs">VORTEXPROM</text></g>
<ellipse cx="700.5" cy="351" rx="3.4" ry="4.6" fill="none" stroke="#ffffff" stroke-width="0.7" />
<path class="hose" d="M704.5,318 L704.5,297 Q704.5,290 711,290 L716,291" stroke-width="3" stroke="#262626" />
<polygon points="715,288.5 722,292 720.5,295.5 713.5,292" fill="#e9e9e9" stroke="#e9e9e9" stroke-width="0.45" stroke-linejoin="round" />
<polygon points="721,291 727,300 724,303 718.5,294" fill="#1578d2" stroke="#1578d2" stroke-width="0.45" stroke-linejoin="round" />
<polygon points="742,311 748,307.5 750,311 744,314.5" fill="#d0d0d0" stroke="#d0d0d0" stroke-width="0.45" stroke-linejoin="round" />
<path d="M670,370 Q674,378 681,374 L684,378 Q676,384 667,373 Z" fill="#1578d2" />
</g>
<g id="filter">
<path class="hose" d="M840,230 L853,221.5 Q862,217 869,217.5 Q882,218.5 882,233 L882,462 Q882,472 873,477 L846,491" stroke-width="4.4" stroke="#262626" />
<line x1="813.3" y1="216" x2="813.3" y2="320" stroke="#0a5cad" stroke-width="5.2" />
<line x1="768" y1="347" x2="820.5" y2="316" stroke="#0c72cc" stroke-width="5.2" />
<line x1="813.3" y1="216" x2="862" y2="245" stroke="#0c72cc" stroke-width="5" />
<line x1="777.5" y1="237.5" x2="813.3" y2="216" stroke="#0c72cc" stroke-width="5" />
<line x1="795" y1="227" x2="842" y2="254.5" stroke="#0a5cad" stroke-width="4.6" />
<line x1="813.3" y1="217" x2="813.3" y2="232" stroke="#0a5cad" stroke-width="4" />
<rect x="790" y="246" width="24.5" height="50" fill="url(#gPipe)" rx="7"/>
<ellipse cx="802" cy="247" rx="12" ry="5" fill="#f6f6f6" />
<ellipse cx="801" cy="295" rx="9" ry="4" fill="#dcdcdc" />
<rect x="831" y="262" width="11" height="52" fill="url(#gPipe)" />
<polygon points="822,228 842,239.5 845,235 825,223.5" fill="#ececec" stroke="#ececec" stroke-width="0.45" stroke-linejoin="round" />
<polygon points="836,229.5 843,226 845.5,230 838.5,233.5" fill="#f2f2f2" stroke="#f2f2f2" stroke-width="0.45" stroke-linejoin="round" />
<ellipse cx="823" cy="224" rx="2" ry="1.4" fill="#f5f5f5" />
<rect x="821" y="224" width="4" height="4" fill="#e2e2e2" />
<ellipse cx="829" cy="227.5" rx="2" ry="1.4" fill="#f5f5f5" />
<rect x="827" y="227.5" width="4" height="4" fill="#e2e2e2" />
<ellipse cx="835" cy="231" rx="2" ry="1.4" fill="#f5f5f5" />
<rect x="833" y="231" width="4" height="4" fill="#e2e2e2" />
<line x1="828" y1="320.5" x2="860" y2="302" stroke="#0c72cc" stroke-width="4.8" />
<line x1="797" y1="332" x2="840" y2="357" stroke="#0c72cc" stroke-width="4.8" />
<line x1="815" y1="374.5" x2="873" y2="343" stroke="#0c72cc" stroke-width="5.4" />
<path class="hose" d="M751.3,270 L751.3,262" stroke-width="4.2" stroke="#262626" />
<path d="M748.5,266 L748.5,259 Q748.5,254 754,255.5 L760,258.5 L758,262.5 L754.5,261 L754.5,266 Z" fill="#efefef" />
<path class="hose" d="M760,260 L773,267.5" stroke-width="3.4" stroke="#262626" />
<polygon points="773.5,263.5 789,272 786.5,277.5 771,269" fill="#ececec" stroke="#ececec" stroke-width="0.45" stroke-linejoin="round" />
<polyline points="763,258 768,255 771.5,256" fill="none" stroke="#c9c9c9" stroke-width="1.6" />
<path class="hose" d="M740,296.5 L760,296 Q769,294 773,287 L778,283" stroke-width="3.6" stroke="#262626" />
<polygon points="781,277.5 790,282.5 787.5,288 778.5,283" fill="#ececec" stroke="#ececec" stroke-width="0.45" stroke-linejoin="round" />
<path class="hose" d="M789,284.5 L798,289.5" stroke-width="3.4" stroke="#262626" />
<polygon points="798.5,285.5 811,292.5 808.5,298.5 796,291.5" fill="#ececec" stroke="#ececec" stroke-width="0.45" stroke-linejoin="round" />
<line x1="779" y1="268" x2="812" y2="286" stroke="#0c72cc" stroke-width="4.2" />
<line x1="779" y1="288" x2="826" y2="314" stroke="#0c72cc" stroke-width="4.2" />
<line x1="778" y1="237.5" x2="778" y2="343" stroke="#0c72cc" stroke-width="5.6" />
<line x1="861.5" y1="245" x2="861.5" y2="348" stroke="#0c72cc" stroke-width="5.6" />
<line x1="825.8" y1="265" x2="825.8" y2="371" stroke="#0c72cc" stroke-width="5.6" />
<line x1="777.5" y1="237.5" x2="826" y2="265.5" stroke="#0c72cc" stroke-width="5.2" />
<line x1="826" y1="265.5" x2="862" y2="245" stroke="#0c72cc" stroke-width="5.2" />
</g>
<g id="platform">
<polygon points="777,556 865,505 883,527 810,572.5" fill="#0e6fc8" stroke="#0e6fc8" stroke-width="0.45" stroke-linejoin="round" />
<polygon points="810,572.5 883,527 883,529.5 810,575" fill="#0a5cad" stroke="#0a5cad" stroke-width="0.45" stroke-linejoin="round" />
<polygon points="680,505 772.5,555 772.5,564 680,514" fill="#0a5cad" stroke="#0a5cad" stroke-width="0.45" stroke-linejoin="round" />
<polygon points="772.5,555 865,501.25 865,508.25 772.5,564" fill="#0b66bd" stroke="#0b66bd" stroke-width="0.45" stroke-linejoin="round" />
<polygon points="680,505 778.75,447.5 865,501.25 772.5,555" fill="url(#pDiamondB)" />
<polygon points="680,505 778.75,447.5 783.75,450.5 685,508" fill="#1a80d8" stroke="#1a80d8" stroke-width="0.45" stroke-linejoin="round" />
<polygon points="680,505 685,508 685,511 680,508" fill="#0c72cc" stroke="#0c72cc" stroke-width="0.45" stroke-linejoin="round" />
<polygon points="685,508 783.75,450.5 783.75,453.5 685,511" fill="#0a5cad" stroke="#0a5cad" stroke-width="0.45" stroke-linejoin="round" />
<polygon points="768.5,552 861,498.25 865,501.25 772.5,555" fill="#1a80d8" stroke="#1a80d8" stroke-width="0.45" stroke-linejoin="round" />
<polyline points="792.5,392 792.5,443 790,448 785,451" fill="none" stroke="#3a3a3a" stroke-width="1.6" />
<polygon points="776,449 788,442.5 794,446 782,453" fill="#2b8fe0" stroke="#2b8fe0" stroke-width="0.45" stroke-linejoin="round" />
<polygon points="776,449 782,453 782,470 776,466" fill="#0c72cc" stroke="#0c72cc" stroke-width="0.45" stroke-linejoin="round" />
<polygon points="782,453 794,446 794,463 782,470" fill="#0a5cad" stroke="#0a5cad" stroke-width="0.45" stroke-linejoin="round" />
<path d="M788.7,450 L788.7,512 A24.3,9.5 0 0 0 837.3,512 L837.3,450 Z" fill="url(#gYel)" />
<path d="M788.7,468.6 A24.3,9.5 0 0 0 837.3,468.6" fill="none" stroke="#e39a10" stroke-width="0.9" />
<path d="M788.7,471.08 A24.3,9.5 0 0 0 837.3,471.08" fill="none" stroke="#e39a10" stroke-width="0.9" />
<path d="M788.7,489.68 A24.3,9.5 0 0 0 837.3,489.68" fill="none" stroke="#e39a10" stroke-width="0.9" />
<path d="M788.7,492.16 A24.3,9.5 0 0 0 837.3,492.16" fill="none" stroke="#e39a10" stroke-width="0.9" />
<ellipse cx="813" cy="450" rx="24.3" ry="9.5" fill="#f3a80f" />
<ellipse cx="813" cy="450.8" rx="23" ry="8.4" fill="#fdc02a" />
<ellipse cx="818.5" cy="451.5" rx="2.2" ry="1.2" fill="#e8e8e8" />
<path class="hose" d="M818.7,451 L820.5,443 Q823,435.5 830,435.5 Q838.7,435.5 838.7,446 L838.7,482" stroke-width="3.8" stroke="#262626" />
<path d="M731.8,457.5 L731.8,518.5 A24.2,9.5 0 0 0 780.2,518.5 L780.2,457.5 Z" fill="url(#gYel)" />
<path d="M731.8,475.8 A24.2,9.5 0 0 0 780.2,475.8" fill="none" stroke="#e39a10" stroke-width="0.9" />
<path d="M731.8,478.24 A24.2,9.5 0 0 0 780.2,478.24" fill="none" stroke="#e39a10" stroke-width="0.9" />
<path d="M731.8,496.54 A24.2,9.5 0 0 0 780.2,496.54" fill="none" stroke="#e39a10" stroke-width="0.9" />
<path d="M731.8,498.98 A24.2,9.5 0 0 0 780.2,498.98" fill="none" stroke="#e39a10" stroke-width="0.9" />
<ellipse cx="756" cy="457.5" rx="24.2" ry="9.5" fill="#f3a80f" />
<ellipse cx="756" cy="458.3" rx="22.9" ry="8.4" fill="#fdc02a" />
<ellipse cx="762.5" cy="455.5" rx="2.6" ry="1.5" fill="#e2e2e2" />
<ellipse cx="762.5" cy="455.5" rx="1.3" ry="0.8" fill="#bdbdbd" />
<polygon points="779,365 785,361 806.5,374 800.5,378" fill="#f4f4f4" stroke="#f4f4f4" stroke-width="0.45" stroke-linejoin="round" />
<polygon points="779,365 800.5,378 800.5,396 779,383" fill="#e9e9e9" stroke="#e9e9e9" stroke-width="0.45" stroke-linejoin="round" />
<polygon points="800.5,378 806.5,374 806.5,392 800.5,396" fill="#cfcfcf" stroke="#cfcfcf" stroke-width="0.45" stroke-linejoin="round" />
<polygon points="781,369.5 798.5,380 798.5,392.5 781,382" fill="#3a3a3a" stroke="#3a3a3a" stroke-width="0.45" stroke-linejoin="round" />
<polygon points="782.5,372.5 797,381 797,386 782.5,377.5" fill="#d7262d" stroke="#d7262d" stroke-width="0.45" stroke-linejoin="round" />
<polygon points="790,386.5 796,390 796,392 790,388.5" fill="#1e7fd6" stroke="#1e7fd6" stroke-width="0.45" stroke-linejoin="round" />
</g>
<g id="console">
<polygon points="429,506 451,494 511,502.5 467.5,526" fill="#1379d3" stroke="#1379d3" stroke-width="0.45" stroke-linejoin="round" />
<polygon points="429,506 467.5,526 467.5,544 429,518" fill="#0c72cc" stroke="#0c72cc" stroke-width="0.45" stroke-linejoin="round" />
<polygon points="467.5,526 511,502.5 511,516 467.5,544" fill="#0a5cad" stroke="#0a5cad" stroke-width="0.45" stroke-linejoin="round" />
<polygon points="446,444 460,452 470,524 457.5,516" fill="#e31f26" stroke="#e31f26" stroke-width="0.45" stroke-linejoin="round" />
<polygon points="460,452 496,440 507.5,505 470,524" fill="#a80f18" stroke="#a80f18" stroke-width="0.45" stroke-linejoin="round" />
<polygon points="408,392.5 412,390.5 434,427 469,446 469,452 430,431" fill="#e31f26" stroke="#e31f26" stroke-width="0.45" stroke-linejoin="round" />
<polygon points="408,392.5 430,431 430,434.5 407,396" fill="#0c72cc" stroke="#0c72cc" stroke-width="0.45" stroke-linejoin="round" />
<polygon points="430,431 469,452 469,456.5 430,435.5" fill="#0c72cc" stroke="#0c72cc" stroke-width="0.45" stroke-linejoin="round" />
<polygon points="469,452 511,426 511,430.5 469,456.5" fill="#0a5cad" stroke="#0a5cad" stroke-width="0.45" stroke-linejoin="round" />
<polygon points="434,427.5 479,402.5 511,420 469,446" fill="#e31f26" stroke="#e31f26" stroke-width="0.45" stroke-linejoin="round" />
<polygon points="469,446 511,420 511,426 469,452" fill="#c8161f" stroke="#c8161f" stroke-width="0.45" stroke-linejoin="round" />
<polygon points="449,428.5 483,410 497,418.5 463,438" fill="#c2141d" stroke="#c2141d" stroke-width="0.45" stroke-linejoin="round" />
<polygon points="452,429 482,412.5 492,418.5 462,435.5" fill="#2b2b2b" stroke="#2b2b2b" stroke-width="0.45" stroke-linejoin="round" />
<polygon points="486,412 491,409.5 496,412.5 491,415.5" fill="#3a3a3a" stroke="#3a3a3a" stroke-width="0.45" stroke-linejoin="round" />
<ellipse cx="447" cy="421.5" rx="1.1" ry="0.8" fill="#f2c230" />
<ellipse cx="452.2" cy="418.6" rx="1.1" ry="0.8" fill="#f0f0f0" />
<ellipse cx="457.4" cy="415.7" rx="1.1" ry="0.8" fill="#f2c230" />
<ellipse cx="462.6" cy="412.8" rx="1.1" ry="0.8" fill="#f0f0f0" />
<line x1="478" y1="445.5" x2="508" y2="428" stroke="#e4e4e4" stroke-width="2.2" />
<ellipse cx="479" cy="446" rx="2.2" ry="1.8" fill="#2b2b2b" />
<ellipse cx="508.5" cy="427.5" rx="2" ry="1.6" fill="#2b2b2b" />
<polygon points="408,392.5 457.5,364 479,401 430,429" fill="#0c72cc" stroke="#0c72cc" stroke-width="0.45" stroke-linejoin="round" />
<polygon points="411.5,393 456.5,367.5 475.5,400 431,425.5" fill="#f6f6f6" stroke="#f6f6f6" stroke-width="0.45" stroke-linejoin="round" />
<g transform="matrix(0.868 -0.497 0.645 1.07 428.5 410.5)"><text x="0" y="0" font-family="Liberation Sans, sans-serif" font-weight="700" font-size="10" fill="#1a1a1a" textLength="41" lengthAdjust="spacingAndGlyphs">VORTEXPROM</text></g>
<path d="M436,386 Q444,382 450,391 Q454,399 449,404 Q443,407 438,399 Q434.5,391 441,388.5" fill="none" stroke="#1a1a1a" stroke-width="0.9" />
<path d="M434,384 L441,385.5 M455,407 L448.5,403" fill="none" stroke="#1a1a1a" stroke-width="0.8" />
</g>
<g id="labels">
<text class="lbl" x="107" y="44" textLength="31" lengthAdjust="spacingAndGlyphs" >Ёмкость</text>
<text class="lbl" x="107" y="54.7" textLength="74" lengthAdjust="spacingAndGlyphs" >предварительного</text>
<text class="lbl" x="107" y="65.4" textLength="51" lengthAdjust="spacingAndGlyphs" >смешивания</text>
<polyline points="158,66 192,85" fill="none" stroke="#e5484d" stroke-width="0.8" />
<text class="lbl" x="107" y="126.5" textLength="37.5" lengthAdjust="spacingAndGlyphs" >Насос #3</text>
<polyline points="145,130.3 107.5,130.3 128,300" fill="none" stroke="#e5484d" stroke-width="0.8" />
<text class="lbl" x="71" y="184.5" textLength="37.5" lengthAdjust="spacingAndGlyphs" >Насос #2</text>
<polyline points="109,188.3 71.5,188.3 92,360" fill="none" stroke="#e5484d" stroke-width="0.8" />
<text class="lbl" x="34" y="241" textLength="37.5" lengthAdjust="spacingAndGlyphs" >Насос #1</text>
<polyline points="72,244.3 34.5,244.3 51,408" fill="none" stroke="#e5484d" stroke-width="0.8" />
<text class="lbl" x="513" y="39" textLength="37.5" lengthAdjust="spacingAndGlyphs" >Насос #4</text>
<polyline points="551,42.5 513.5,42.5 470,115" fill="none" stroke="#e5484d" stroke-width="0.8" />
<text class="lbl" x="513" y="96.5" textLength="37.5" lengthAdjust="spacingAndGlyphs" >Насос #5</text>
<polyline points="551,100.3 513.5,100.3 470,174" fill="none" stroke="#e5484d" stroke-width="0.8" />
<text class="lbl" x="637" y="205.5" textLength="19" lengthAdjust="spacingAndGlyphs" >Блок</text>
<text class="lbl" x="637" y="217" textLength="47.5" lengthAdjust="spacingAndGlyphs" >управления</text>
<text class="lbl" x="637" y="228" textLength="22" lengthAdjust="spacingAndGlyphs" >CMD5</text>
<polyline points="634,207.5 619,217.5" fill="none" stroke="#e5484d" stroke-width="0.8" />
<text class="lbl" x="833" y="198.5" textLength="19.5" lengthAdjust="spacingAndGlyphs" >Блок</text>
<text class="lbl" x="833" y="210" textLength="39" lengthAdjust="spacingAndGlyphs" >фильтров</text>
<polyline points="832,204 815,212" fill="none" stroke="#e5484d" stroke-width="0.8" />
<text class="lbl" x="739" y="372.5" textLength="32.5" lengthAdjust="spacingAndGlyphs" >Реактор</text>
<text class="lbl" x="739" y="383" textLength="21.5" lengthAdjust="spacingAndGlyphs" >CMD5</text>
<polyline points="740,340 740,360" fill="none" stroke="#e5484d" stroke-width="0.8" />
<text class="lbl" x="813" y="411" textLength="30" lengthAdjust="spacingAndGlyphs" >Готовая</text>
<text class="lbl" x="813" y="422" textLength="42" lengthAdjust="spacingAndGlyphs" >продукция</text>
<polyline points="782,450 814,426 804,455" fill="none" stroke="#e5484d" stroke-width="0.8" />
<text class="lbl" x="655" y="475.5" textLength="33" lengthAdjust="spacingAndGlyphs" >Весовая</text>
<text class="lbl" x="655" y="486.5" textLength="45" lengthAdjust="spacingAndGlyphs" >платформа</text>
<polyline points="700,484 714,494" fill="none" stroke="#e5484d" stroke-width="0.8" />
<text class="lbl" x="535.5" y="454" textLength="21.5" lengthAdjust="spacingAndGlyphs" >Пульт</text>
<text class="lbl" x="535.5" y="465" textLength="46.5" lengthAdjust="spacingAndGlyphs" >управления</text>
<polyline points="514,434 534.5,445" fill="none" stroke="#e5484d" stroke-width="0.8" />
</g>
</svg>
</body></html>
